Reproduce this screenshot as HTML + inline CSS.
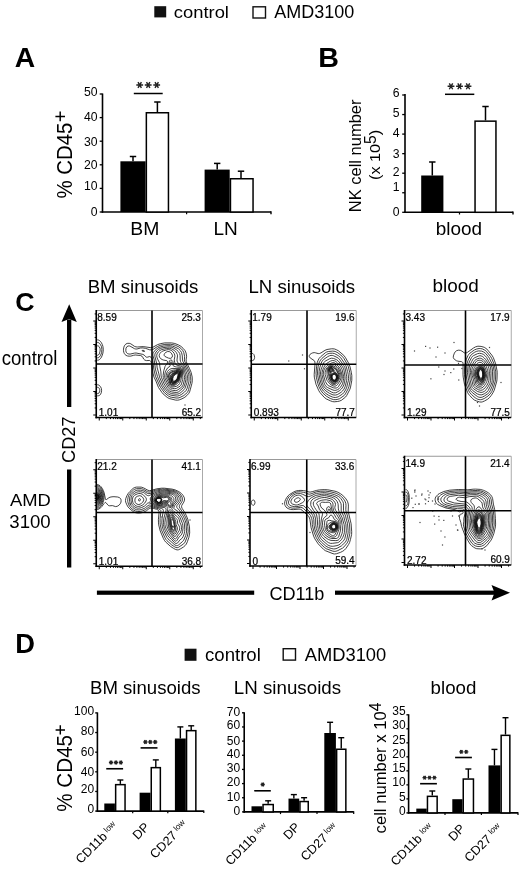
<!DOCTYPE html>
<html><head><meta charset="utf-8"><style>
html,body{margin:0;padding:0;background:#fff;}
svg{display:block;font-family:"Liberation Sans", sans-serif;will-change:transform;}
</style></head><body>
<svg width="520" height="870" viewBox="0 0 520 870">
<rect width="520" height="870" fill="#fff"/>
<rect x="154.3" y="6.2" width="11.9" height="11.2" fill="#111"/>
<text transform="translate(173.82,18.00) scale(1.056,1)" font-size="17.39" fill="#000">control</text>
<rect x="253" y="6.8" width="12.5" height="11.2" fill="#fff" stroke="#111" stroke-width="1.4"/>
<text transform="translate(274.16,18.30) scale(1.022,1)" font-size="17.62" fill="#000">AMD3100</text>
<text transform="translate(14.79,67.00) scale(0.999,1)" font-size="28.34" font-weight="bold" fill="#000">A</text>
<text transform="translate(318.28,67.00) scale(1.012,1)" font-size="28.34" font-weight="bold" fill="#000">B</text>
<text transform="translate(15.15,310.50) scale(1.010,1)" font-size="26.50" font-weight="bold" fill="#000">C</text>
<text transform="translate(15.17,653.00) scale(0.976,1)" font-size="27.98" font-weight="bold" fill="#000">D</text>
<line x1="102.50" y1="93.50" x2="102.50" y2="212.75" stroke="#000" stroke-width="1.6"/>
<line x1="101.70" y1="212.00" x2="271.00" y2="212.00" stroke="#000" stroke-width="1.6"/>
<line x1="271.00" y1="211.20" x2="271.00" y2="214.20" stroke="#000" stroke-width="1.4"/>
<line x1="186.60" y1="212.00" x2="186.60" y2="214.20" stroke="#000" stroke-width="1.2"/>
<line x1="99.70" y1="212.00" x2="102.50" y2="212.00" stroke="#000" stroke-width="1.3"/>
<text x="97.60" y="215.86" font-size="12.2" text-anchor="end">0</text>
<line x1="99.70" y1="188.40" x2="102.50" y2="188.40" stroke="#000" stroke-width="1.3"/>
<text x="97.60" y="189.86" font-size="12.2" text-anchor="end">10</text>
<line x1="99.70" y1="164.80" x2="102.50" y2="164.80" stroke="#000" stroke-width="1.3"/>
<text x="97.60" y="169.26" font-size="12.2" text-anchor="end">20</text>
<line x1="99.70" y1="141.20" x2="102.50" y2="141.20" stroke="#000" stroke-width="1.3"/>
<text x="97.60" y="145.76" font-size="12.2" text-anchor="end">30</text>
<line x1="99.70" y1="117.60" x2="102.50" y2="117.60" stroke="#000" stroke-width="1.3"/>
<text x="97.60" y="121.11" font-size="12.2" text-anchor="end">40</text>
<line x1="99.70" y1="94.00" x2="102.50" y2="94.00" stroke="#000" stroke-width="1.3"/>
<text x="97.60" y="95.96" font-size="12.2" text-anchor="end">50</text>
<rect x="120.40" y="161.30" width="25.20" height="50.70" fill="#000"/>
<line x1="133.00" y1="161.30" x2="133.00" y2="156.50" stroke="#000" stroke-width="1.5"/>
<line x1="129.80" y1="156.50" x2="136.20" y2="156.50" stroke="#000" stroke-width="1.5"/>
<rect x="146.35" y="112.75" width="22.10" height="99.25" fill="#fff" stroke="#000" stroke-width="1.5"/>
<line x1="157.40" y1="112.00" x2="157.40" y2="102.00" stroke="#000" stroke-width="1.5"/>
<line x1="154.20" y1="102.00" x2="160.60" y2="102.00" stroke="#000" stroke-width="1.5"/>
<rect x="204.60" y="169.60" width="25.10" height="42.40" fill="#000"/>
<line x1="217.20" y1="169.60" x2="217.20" y2="163.40" stroke="#000" stroke-width="1.5"/>
<line x1="214.00" y1="163.40" x2="220.40" y2="163.40" stroke="#000" stroke-width="1.5"/>
<rect x="230.45" y="178.75" width="22.60" height="33.25" fill="#fff" stroke="#000" stroke-width="1.5"/>
<line x1="241.00" y1="178.00" x2="241.00" y2="171.20" stroke="#000" stroke-width="1.5"/>
<line x1="237.80" y1="171.20" x2="244.20" y2="171.20" stroke="#000" stroke-width="1.5"/>
<line x1="133.80" y1="93.50" x2="162.70" y2="93.50" stroke="#000" stroke-width="1.5"/>
<path d="M136.30,85.00L143.10,85.00M138.00,82.06L141.40,87.94M141.40,82.06L138.00,87.94" stroke="#222" stroke-width="1.4" fill="none"/>
<path d="M144.80,85.00L151.60,85.00M146.50,82.06L149.90,87.94M149.90,82.06L146.50,87.94" stroke="#222" stroke-width="1.4" fill="none"/>
<path d="M153.30,85.00L160.10,85.00M155.00,82.06L158.40,87.94M158.40,82.06L155.00,87.94" stroke="#222" stroke-width="1.4" fill="none"/>
<text transform="translate(130.31,235.30) scale(1.084,1)" font-size="17.88" fill="#000">BM</text>
<text transform="translate(213.44,235.30) scale(1.064,1)" font-size="17.88" fill="#000">LN</text>
<text transform="translate(72.00,198.53) rotate(-90) scale(0.924,1)" font-size="22.06">% CD45</text>
<path d="M55.40,116.40H65.00M60.20,111.60V121.20" stroke="#000" stroke-width="1.45"/>
<line x1="405.00" y1="94.00" x2="405.00" y2="213.05" stroke="#000" stroke-width="1.6"/>
<line x1="404.20" y1="212.30" x2="513.00" y2="212.30" stroke="#000" stroke-width="1.6"/>
<line x1="513.00" y1="211.50" x2="513.00" y2="214.50" stroke="#000" stroke-width="1.4"/>
<line x1="459.50" y1="212.30" x2="459.50" y2="214.50" stroke="#000" stroke-width="1.2"/>
<line x1="402.20" y1="212.30" x2="405.00" y2="212.30" stroke="#000" stroke-width="1.3"/>
<text x="399.60" y="215.76" font-size="12.2" text-anchor="end">0</text>
<line x1="402.20" y1="192.75" x2="405.00" y2="192.75" stroke="#000" stroke-width="1.3"/>
<text x="399.60" y="190.51" font-size="12.2" text-anchor="end">1</text>
<line x1="402.20" y1="173.20" x2="405.00" y2="173.20" stroke="#000" stroke-width="1.3"/>
<text x="399.60" y="175.56" font-size="12.2" text-anchor="end">2</text>
<line x1="402.20" y1="153.65" x2="405.00" y2="153.65" stroke="#000" stroke-width="1.3"/>
<text x="399.60" y="158.11" font-size="12.2" text-anchor="end">3</text>
<line x1="402.20" y1="134.10" x2="405.00" y2="134.10" stroke="#000" stroke-width="1.3"/>
<text x="399.60" y="136.76" font-size="12.2" text-anchor="end">4</text>
<line x1="402.20" y1="114.55" x2="405.00" y2="114.55" stroke="#000" stroke-width="1.3"/>
<text x="399.60" y="116.71" font-size="12.2" text-anchor="end">5</text>
<line x1="402.20" y1="95.00" x2="405.00" y2="95.00" stroke="#000" stroke-width="1.3"/>
<text x="399.60" y="96.86" font-size="12.2" text-anchor="end">6</text>
<rect x="421.20" y="175.50" width="22.20" height="36.80" fill="#000"/>
<line x1="432.30" y1="175.50" x2="432.30" y2="162.00" stroke="#000" stroke-width="1.5"/>
<line x1="429.10" y1="162.00" x2="435.50" y2="162.00" stroke="#000" stroke-width="1.5"/>
<rect x="475.05" y="121.15" width="20.90" height="91.15" fill="#fff" stroke="#000" stroke-width="1.5"/>
<line x1="485.50" y1="120.40" x2="485.50" y2="106.50" stroke="#000" stroke-width="1.5"/>
<line x1="482.30" y1="106.50" x2="488.70" y2="106.50" stroke="#000" stroke-width="1.5"/>
<line x1="445.00" y1="94.30" x2="474.30" y2="94.30" stroke="#000" stroke-width="1.5"/>
<path d="M447.60,86.30L454.40,86.30M449.30,83.36L452.70,89.24M452.70,83.36L449.30,89.24" stroke="#222" stroke-width="1.4" fill="none"/>
<path d="M456.10,86.30L462.90,86.30M457.80,83.36L461.20,89.24M461.20,83.36L457.80,89.24" stroke="#222" stroke-width="1.4" fill="none"/>
<path d="M464.60,86.30L471.40,86.30M466.30,83.36L469.70,89.24M469.70,83.36L466.30,89.24" stroke="#222" stroke-width="1.4" fill="none"/>
<text transform="translate(435.68,235.00) scale(1.056,1)" font-size="17.94" fill="#000">blood</text>
<text transform="translate(360.80,212.25) rotate(-90) scale(0.980,1)" font-size="16.84">NK cell number</text>
<text transform="translate(380.30,180.01) rotate(-90) scale(1.049,1)" font-size="15.46">(x 10</text>
<text transform="translate(375.6,143.97) rotate(-90)" font-size="15.8">5</text>
<text transform="translate(380.3,135.18) rotate(-90) scale(1.049,1)" font-size="15.46">)</text>
<text transform="translate(87.67,292.90) scale(0.984,1)" font-size="18.91" fill="#000">BM sinusoids</text>
<text transform="translate(248.47,292.50) scale(1.039,1)" font-size="17.94" fill="#000">LN sinusoids</text>
<text transform="translate(432.58,292.30) scale(1.024,1)" font-size="18.49" fill="#000">blood</text>
<text transform="translate(1.71,364.50) scale(0.962,1)" font-size="19.32" fill="#000">control</text>
<text transform="translate(9.96,505.50) scale(1.078,1)" font-size="17.08" fill="#000">AMD</text>
<text transform="translate(9.29,528.00) scale(1.040,1)" font-size="17.90" fill="#000">3100</text>
<path d="M69.2,304.2 L76.8,322 L69.2,319 L61.5,322 Z" fill="#000"/>
<rect x="67.0" y="319.5" width="4.3" height="87.5" fill="#000"/>
<text transform="translate(74.50,462.92) rotate(-90) scale(0.955,1)" font-size="18.98">CD27</text>
<rect x="67.0" y="469.5" width="4.3" height="98" fill="#000"/>
<rect x="96.9" y="590.6" width="157.3" height="4.2" fill="#000"/>
<text transform="translate(269.38,599.70) scale(1.033,1)" font-size="17.53" fill="#000">CD11b</text>
<rect x="335" y="590.6" width="160" height="4.2" fill="#000"/>
<path d="M510,592.7 L491.5,585 L494.5,592.7 L491.5,600.5 Z" fill="#000"/>
<path d="M173.2 384.4l-0.8 0.1l-0.8 -0.1l-0.6 -0.5l-0.4 -0.8l-1.5 -6.0l-0.0 -1.2l0.3 -1.2l0.8 -1.2l1.4 -1.0l3.6 -1.1l2.8 -1.3l0.8 -0.2l0.8 0.1l0.4 0.3l0.4 0.7l0.1 1.7l-1.9 6.8l-0.9 1.6l-1.1 1.2l-1.8 1.3l-1.6 0.8M173.7 384.7l-1.2 0.3l-0.8 -0.1l-0.8 -0.6l-0.5 -0.8l-0.8 -3.2l-1.0 -3.2l-0.1 -1.2l0.4 -1.6l1.2 -1.6l1.6 -1.0l4.0 -1.0l2.8 -1.2l1.2 -0.0l0.4 0.2l0.5 0.6l0.2 0.8l0.1 1.2l-0.3 1.6l-1.5 5.6l-0.8 1.6l-1.0 1.2l-1.6 1.3l-2.0 1.1M173.7 385.6l-1.2 0.3l-1.2 -0.3l-0.8 -0.7l-0.5 -1.0l-1.1 -3.3l-1.4 -3.5l0.0 -1.6l0.6 -2.0l1.2 -1.6l1.2 -0.9l1.2 -0.5l1.6 -0.4l2.4 -0.2l3.2 -1.0l1.2 0.1l0.4 0.2l0.5 0.7l0.3 2.0l-0.3 2.4l-1.5 6.0l-1.0 1.9l-1.2 1.4l-1.2 0.9l-2.4 1.1M171.2 363.5l-0.4 -0.1l-0.4 -0.3l-0.1 -0.4l0.1 -0.4l0.4 -0.5l0.6 0.1l0.4 0.4l-0.1 0.8l-0.5 0.4M174.1 386.8l-1.6 0.2l-1.2 -0.2l-0.8 -0.5l-0.9 -1.2l-3.4 -7.6l-0.1 -1.6l0.6 -2.8l0.8 -1.6l1.0 -1.2l1.2 -0.9l1.2 -0.6l2.0 -0.4l3.2 0.2l3.2 -0.5l1.2 0.2l0.6 0.4l0.5 0.8l0.3 2.0l-0.6 6.8l-0.6 2.4l-1.1 2.8l-1.2 1.6l-1.9 1.2l-2.4 0.5M170.9 358.3l-0.8 0.1l-1.6 -0.3l-2.3 -1.0l-1.4 -0.8l-0.4 -0.4l-0.3 -0.8l0.1 -0.8l0.4 -0.8l1.3 -1.2l1.8 -0.8l1.6 0.1l1.2 0.7l1.3 1.6l0.5 1.2l0.2 0.8l-0.4 1.4l-1.2 1.0M176.4 388.4l-1.6 0.3l-2.4 -0.3l-1.6 -0.4l-0.9 -0.5l-0.9 -1.2l-2.2 -4.0l-2.1 -4.8l-0.0 -2.4l0.5 -2.4l0.5 -1.6l1.9 -3.2l2.3 -1.6l0.3 -0.4l-0.0 -0.4l-1.0 -1.7l-0.2 -1.5l0.6 -1.5l0.8 -0.8l0.4 -0.1l1.2 0.5l0.9 1.1l0.3 1.6l-0.3 2.0l0.1 0.4l0.5 0.4l1.6 0.8l1.3 0.3l3.2 0.1l1.2 0.2l1.0 1.0l0.5 1.2l0.2 4.4l0.4 4.0l-0.2 1.6l-1.2 4.4l-0.5 1.2l-1.0 1.1l-3.6 2.2M176.9 390.4l-1.6 0.2l-2.8 -0.3l-2.0 -0.6l-1.4 -1.0l-0.7 -0.8l-3.1 -5.2l-2.0 -5.2l-0.2 -2.0l0.7 -4.8l1.3 -4.4l0.5 -0.8l1.3 -1.3l0.4 -0.7l0.2 -2.0l-0.2 -0.5l-0.4 -0.3l-3.6 -0.7l-1.2 -0.5l-1.2 -0.7l-0.8 -0.8l-0.5 -0.9l-0.4 -1.2l0.0 -0.8l0.3 -0.8l0.6 -1.1l1.6 -1.6l1.2 -0.6l3.6 -1.1l2.0 -0.3l1.6 0.3l1.7 0.8l1.3 1.2l1.1 1.6l0.6 1.6l0.0 1.6l-0.6 3.2l0.6 2.8l0.5 1.2l0.8 0.8l1.2 0.7l3.2 0.6l1.2 0.6l0.9 0.9l0.4 1.2l0.5 4.0l0.9 3.2l0.2 1.6l-0.2 2.0l-1.1 4.8l-0.7 1.6l-0.9 1.2l-3.6 2.6l-1.2 0.7M176.9 392.4l-2.0 -0.0l-3.2 -0.5l-2.0 -0.8l-1.6 -1.2l-1.3 -1.6l-2.7 -4.4l-2.6 -6.4l-0.4 -1.6l-0.2 -4.0l-1.1 -5.6l-0.2 -2.8l-0.3 -1.2l-1.7 -3.2l-0.7 -2.0l-0.2 -1.6l0.3 -1.6l1.3 -2.0l1.4 -1.3l2.0 -1.0l4.8 -1.1l2.8 -0.2l2.4 0.6l2.5 1.4l2.2 2.4l1.0 2.0l0.1 1.2l-0.5 4.0l0.1 1.2l0.5 1.2l0.6 0.8l0.9 0.8l2.6 1.3l0.8 0.6l1.1 1.7l0.9 4.0l1.0 2.8l0.4 2.0l-0.0 3.2l-0.7 3.6l-1.1 3.2l-1.0 1.6l-4.2 3.7l-0.8 0.5l-1.2 0.3M178.1 394.0l-2.0 0.2l-4.4 -0.5l-2.0 -0.9l-2.4 -1.7l-1.8 -2.0l-2.4 -3.6l-3.6 -8.4l-0.8 -4.0l-1.5 -5.2l-0.5 -4.4l-1.8 -7.2l-0.1 -1.6l0.5 -1.6l1.8 -2.4l1.4 -1.3l2.0 -1.0l2.4 -0.7l4.4 -0.6l2.4 -0.1l2.0 0.3l2.0 0.8l2.9 1.8l1.9 1.8l1.2 1.8l0.4 2.0l0.1 4.4l0.3 1.6l0.7 1.2l2.3 2.4l0.9 1.6l1.3 4.0l1.4 3.6l0.3 1.6l0.0 2.4l-0.4 4.4l-2.0 5.6l-0.9 1.3l-3.2 2.9l-1.2 0.8l-1.6 0.7M97.2 345.8l1.2 0.2l0.8 0.7l0.8 1.6l0.2 1.6l-0.3 2.0l-0.6 2.0l-0.9 1.1l-1.2 0.4M177.7 396.0l-1.6 0.0l-5.2 -0.8l-2.0 -0.9l-3.0 -2.4l-1.4 -1.6l-3.0 -4.4l-4.0 -9.2l-2.1 -7.6l-1.1 -8.8l-1.4 -4.8l-0.1 -1.6l0.7 -1.6l2.8 -3.2l1.8 -1.2l2.0 -0.9l3.2 -0.8l2.8 -0.4l4.0 -0.1l2.4 0.4l2.4 0.9l3.6 1.8l1.9 1.9l1.2 2.0l0.7 3.2l0.2 4.0l0.4 1.6l2.2 4.0l3.1 7.2l0.5 1.6l0.3 2.4l-0.0 4.4l-0.4 2.0l-1.6 5.6l-1.1 2.0l-1.4 1.4l-2.8 2.2l-2.0 1.1l-2.0 0.6M144.4 351.5l-0.8 -0.0l-1.2 -0.4l-0.4 -0.4l0.8 -0.4l1.2 0.2l0.7 0.6l-0.3 0.4M97.2 342.4l0.8 0.1l0.8 0.3l0.8 0.7l0.8 1.0l1.1 2.2l0.4 2.8l-0.3 3.2l-1.1 2.8l-1.3 1.7l-0.8 0.5l-1.2 0.2M178.1 398.0l-2.0 0.0l-4.8 -0.8l-1.2 -0.3l-1.6 -0.8l-4.1 -3.4l-4.1 -5.6l-4.8 -10.8l-1.7 -7.2l-1.0 -8.4l-0.7 -1.9l-1.2 -1.7l-1.2 -0.6l-2.4 0.7l-0.8 0.0l-0.8 -0.5l-1.5 -1.6l-1.3 -0.7l-6.8 -1.4l-1.6 0.1l-4.4 1.0l-1.2 -0.1l-1.2 -0.3l-1.2 -1.0l-0.4 -0.8l-0.3 -1.2l0.2 -2.4l0.9 -1.6l1.2 -0.7l1.2 -0.1l1.6 0.7l3.6 2.1l1.2 0.3l1.2 -0.0l3.6 -1.0l2.4 -0.1l2.8 0.5l4.0 1.4l1.6 0.1l1.6 -0.4l4.4 -2.9l2.8 -1.2l4.8 -1.0l5.6 -0.1l2.4 0.3l2.4 0.7l3.6 1.6l2.3 1.8l1.7 2.0l0.9 2.0l0.8 3.6l-0.2 3.6l0.2 1.2l5.3 12.0l0.7 3.6l0.2 4.0l-0.4 2.4l-1.1 3.5l-0.7 2.9l-0.5 1.6l-0.8 1.2l-1.6 1.8l-2.0 1.5l-3.6 1.8l-2.0 0.6M97.2 387.2l1.2 0.3l0.8 0.8l0.5 1.2l0.1 1.2l-0.2 1.2l-0.7 1.2l-0.9 0.5l-0.8 0.0M97.2 339.8l1.2 0.2l1.2 0.6l0.9 0.9l0.9 1.2l0.8 1.6l0.7 2.0l0.4 3.2l-0.2 2.4l-0.4 2.0l-1.2 3.2l-0.8 1.2l-1.1 1.2l-1.2 0.6l-1.2 0.1M179.2 399.9l-1.6 0.3l-2.0 -0.1l-6.4 -1.6l-2.0 -1.1l-4.1 -3.5l-1.0 -1.2l-3.6 -5.2l-2.5 -6.3l-2.0 -4.1l-1.0 -4.0l-1.4 -9.6l-0.8 -2.2l-0.4 -0.4l-0.8 -0.4l-3.2 0.1l-1.6 -0.5l-1.1 -1.0l-1.0 -2.0l-0.6 -0.8l-1.7 -0.8l-5.2 -0.5l-1.6 0.3l-2.8 0.8l-1.6 0.1l-1.6 -0.2l-1.6 -0.6l-0.8 -0.7l-0.9 -1.2l-0.5 -1.2l-0.3 -1.6l0.0 -1.6l0.4 -2.0l0.5 -1.3l0.8 -1.1l0.8 -0.7l1.2 -0.6l2.0 -0.1l1.6 0.5l3.6 2.5l1.6 0.6l1.6 0.1l5.6 -0.4l7.6 1.1l2.0 -0.4l4.8 -2.7l3.2 -1.0l4.0 -0.7l6.8 0.0l3.2 0.6l3.6 1.4l2.5 1.4l2.2 2.0l2.0 2.4l1.0 2.4l0.5 3.2l-0.5 3.6l0.2 1.6l0.5 1.6l2.6 5.2l1.7 4.0l1.1 4.8l0.1 3.6l-0.4 2.8l-1.7 6.4l-0.6 2.0l-0.9 1.6l-1.9 2.1l-2.0 1.7l-2.8 1.5l-2.8 1.1M97.2 384.7l0.8 0.1l0.8 0.3l1.6 1.4l0.9 1.8l0.3 2.0l-0.3 2.4l-1.0 2.0l-0.7 0.6l-0.8 0.4l-1.6 0.2M173.7 383.5l-0.8 0.2l-0.8 -0.1l-0.4 -0.2l-0.5 -0.7l-1.0 -5.6l0.0 -0.8l0.3 -1.1l0.7 -0.9l0.9 -0.7l2.8 -1.2l2.8 -1.6l0.8 -0.2l0.8 -0.0l0.4 0.2l0.3 0.7l0.1 1.2l-1.0 4.0l-0.8 2.4l-0.9 1.6l-0.9 1.0l-1.6 1.2l-1.2 0.6M173.7 383.2l-0.8 0.2l-0.8 -0.2l-0.7 -0.9l-0.7 -5.2l0.3 -1.6l1.1 -1.3l5.2 -2.8l1.2 -0.5l0.8 0.1l0.5 0.9l0.0 1.2l-1.0 4.0l-0.7 2.0l-0.7 1.2l-0.9 1.1l-1.2 0.9l-1.6 0.9M174.1 382.7l-0.8 0.3l-0.8 -0.1l-0.4 -0.2l-0.5 -0.8l-0.3 -4.4l0.2 -1.6l0.5 -0.8l1.0 -0.8l4.3 -2.6l0.8 -0.3l0.8 -0.0l0.5 0.5l0.1 1.2l-1.5 5.6l-0.6 1.2l-0.9 1.1l-1.2 1.0l-1.2 0.7M174.1 382.4l-0.8 0.2l-0.8 -0.1l-0.6 -1.0l-0.2 -2.8l0.3 -2.4l0.8 -1.2l2.5 -1.7l2.4 -1.4l1.1 -0.1l0.3 0.4l0.1 1.2l-0.7 3.2l-0.7 2.0l-1.3 2.0l-1.2 1.0l-1.2 0.7M174.1 382.0l-1.2 0.1l-0.4 -0.3l-0.4 -0.7l-0.0 -2.8l0.4 -2.0l1.0 -1.2l2.2 -1.7l2.0 -1.0l0.8 0.0l0.3 0.7l-0.1 1.2l-0.5 2.4l-0.7 2.0l-0.6 1.1l-0.8 0.9l-2.0 1.3M174.1 381.6l-0.8 0.1l-0.4 -0.2l-0.5 -0.8l-0.0 -2.0l0.5 -2.0l0.7 -1.2l1.7 -1.4l1.6 -1.0l0.8 -0.2l0.4 0.1l0.3 0.9l-0.1 1.2l-0.4 2.0l-0.6 1.5l-1.2 1.7l-0.8 0.7l-1.2 0.6M174.1 381.2l-0.8 -0.1l-0.5 -0.8l0.0 -2.0l0.5 -1.6l0.9 -1.2l1.5 -1.2l1.2 -0.6l0.8 0.0l0.3 0.6l-0.1 1.6l-0.9 2.8l-1.3 1.6l-1.6 0.9" stroke="#111" stroke-width="0.8" fill="none" stroke-linejoin="round"/>
<rect x="184.4" y="404.4" width="1.2" height="1.2" fill="#444"/>
<path d="M335.1 382.8l-0.8 0.3l-0.8 -0.0l-1.2 -0.7l-1.2 -1.7l-1.1 -2.4l-0.3 -1.6l-0.3 -2.8l-0.9 -2.4l-0.2 -1.6l0.3 -1.2l0.5 -0.8l0.8 -0.6l0.8 -0.4l1.2 -0.0l0.8 0.2l2.8 2.3l1.2 1.6l1.6 3.3l0.2 2.4l-0.6 2.8l-1.2 1.9l-1.6 1.4M334.6 383.6l-0.8 0.1l-0.8 -0.1l-0.8 -0.5l-0.8 -0.8l-1.6 -2.8l-0.9 -2.8l-0.4 -2.8l-0.7 -2.8l0.0 -1.6l0.5 -1.2l0.6 -0.8l0.9 -0.6l1.2 -0.4l1.2 -0.0l0.8 0.2l3.2 2.3l1.2 1.9l1.5 3.4l-0.0 2.4l-0.8 3.2l-1.5 2.1l-1.2 1.2l-0.8 0.4M334.2 384.7l-0.8 -0.1l-1.2 -0.4l-1.0 -0.7l-1.0 -1.2l-1.9 -3.2l-0.8 -2.4l-0.4 -2.0l-0.2 -4.0l0.2 -1.2l0.5 -1.2l1.0 -1.2l0.8 -0.6l1.2 -0.6l1.2 -0.2l1.2 0.0l0.8 0.3l2.0 1.3l1.2 1.1l0.7 1.1l1.5 3.2l0.7 2.0l0.0 1.2l-0.2 1.6l-0.6 2.0l-0.5 1.2l-2.4 3.0l-0.8 0.6l-1.2 0.4M335.9 385.9l-1.2 0.3l-1.6 -0.3l-2.0 -1.0l-1.6 -1.4l-2.5 -3.2l-1.9 -5.9l0.0 -1.7l0.4 -2.0l0.7 -1.6l0.7 -1.2l1.1 -1.2l1.5 -1.1l1.6 -0.7l1.6 -0.5l1.2 0.1l0.8 0.3l2.4 2.0l1.1 1.1l2.2 4.8l0.7 2.4l-0.1 2.8l-0.9 2.8l-2.7 4.0l-0.7 0.7l-0.8 0.5M336.6 387.9l-1.6 0.2l-1.6 -0.3l-4.5 -1.9l-1.5 -1.0l-2.1 -3.4l-1.9 -6.8l-0.1 -1.6l0.5 -2.4l0.6 -1.6l1.0 -1.6l1.2 -1.3l1.2 -0.9l3.6 -2.2l1.2 -0.5l1.2 0.0l1.2 0.5l4.0 3.8l1.0 1.8l1.2 3.2l0.9 3.2l0.2 1.6l-0.1 1.6l-0.4 2.0l-0.7 2.0l-2.7 4.4l-0.9 0.8l-0.9 0.4M335.9 390.3l-1.2 0.1l-1.6 -0.3l-5.6 -2.6l-1.7 -1.2l-1.0 -1.6l-1.1 -2.8l-1.7 -7.2l0.1 -2.4l0.7 -2.8l0.9 -2.0l1.8 -2.9l1.2 -1.2l3.6 -2.2l2.0 -0.7l2.0 0.2l1.6 0.8l1.6 1.4l2.7 3.0l1.0 1.6l0.9 2.0l1.5 6.8l0.1 2.0l-0.3 2.0l-0.7 2.9l-0.8 1.9l-1.7 2.4l-1.1 1.2l-1.6 1.0l-1.6 0.6M335.4 392.8l-2.0 -0.0l-2.0 -0.8l-4.8 -2.8l-2.0 -1.7l-1.3 -2.0l-1.0 -2.8l-0.8 -3.2l-1.0 -5.2l0.1 -2.4l0.6 -2.8l2.8 -6.8l0.7 -0.8l1.1 -0.7l4.0 -2.1l1.6 -0.5l2.0 0.2l3.2 1.3l1.6 1.2l2.0 2.5l2.3 3.3l1.1 2.0l0.4 1.6l1.0 6.4l0.1 2.0l-0.4 2.4l-0.8 3.6l-1.1 2.4l-1.5 2.0l-1.5 1.4l-2.8 1.7l-1.6 0.6M335.4 395.1l-2.4 -0.2l-3.6 -1.6l-3.6 -2.4l-2.4 -2.5l-1.3 -2.1l-1.2 -3.2l-1.0 -4.0l-0.8 -4.8l-0.0 -2.8l0.7 -4.0l1.4 -4.4l1.0 -2.0l1.6 -1.8l4.0 -2.7l1.6 -0.8l1.6 -0.4l1.2 0.0l1.2 0.3l3.6 1.7l1.6 1.0l1.3 1.5l3.8 5.6l1.1 2.0l0.7 2.4l1.2 6.8l0.1 2.0l-0.1 1.6l-1.6 6.4l-1.1 2.4l-1.4 1.8l-1.5 1.4l-3.7 2.3l-2.0 0.5M335.4 397.5l-1.6 -0.1l-1.2 -0.3l-4.0 -1.8l-2.8 -1.9l-2.4 -2.4l-2.2 -3.1l-1.3 -2.8l-1.1 -4.0l-1.1 -5.6l-0.2 -3.6l0.6 -5.2l0.7 -3.2l0.9 -2.0l1.0 -1.6l1.1 -1.4l4.4 -3.7l1.6 -1.0l2.0 -0.5l2.8 -0.1l2.0 0.4l3.6 2.0l2.4 2.0l3.8 5.5l1.6 2.8l1.6 5.6l0.6 2.8l0.4 4.0l-0.1 2.0l-1.0 3.6l-0.7 3.2l-1.2 2.8l-1.8 2.8l-1.2 1.3l-4.4 2.8l-1.2 0.4l-1.6 0.3M337.1 399.5l-2.0 0.2l-1.6 -0.1l-3.2 -1.1l-4.0 -2.3l-3.4 -3.1l-2.1 -2.8l-1.9 -3.6l-1.1 -3.2l-1.5 -6.4l-0.3 -4.0l0.6 -6.8l0.6 -3.6l0.9 -2.4l1.1 -2.0l1.5 -1.6l4.8 -4.1l1.2 -0.6l1.6 -0.5l4.4 -0.4l2.4 0.3l2.8 1.4l4.3 3.5l1.6 2.0l3.7 6.4l0.7 1.6l1.6 6.4l0.4 3.6l0.1 3.6l-1.4 6.8l-0.7 2.0l-2.8 5.2l-1.1 1.5l-4.7 3.3l-2.5 0.8M337.4 401.5l-3.2 0.3l-1.6 -0.2l-2.0 -0.7l-4.4 -2.0l-2.0 -1.6l-4.1 -4.6l-1.3 -2.0l-2.8 -6.4l-1.7 -7.2l-0.1 -2.8l0.8 -10.0l-0.1 -2.4l-0.7 -1.3l-4.0 -2.7l-0.7 -0.8l-0.3 -0.8l0.1 -0.8l0.4 -0.8l1.6 -1.2l1.3 -0.6l1.6 -0.3l1.2 0.2l2.8 0.8l1.2 -0.1l1.6 -0.6l4.0 -2.6l2.0 -0.8l4.4 -0.7l1.6 0.0l1.6 0.2l2.0 0.8l2.0 1.1l5.2 4.5l1.6 2.1l3.4 6.0l1.2 3.2l1.3 5.6l0.5 3.2l0.0 4.8l-1.4 7.6l-0.8 2.0l-2.9 5.6l-1.2 1.6l-4.1 3.2l-2.0 0.8l-2.0 0.4M252.2 353.4l0.8 0.2l0.8 0.8l0.6 1.5l0.2 1.6l-0.2 1.2l-0.6 1.2l-0.8 0.6l-0.8 0.1M334.6 382.0l-1.2 0.0l-0.8 -0.5l-0.9 -1.2l-0.9 -2.0l-0.3 -1.6l0.1 -3.2l-1.4 -2.0l-0.4 -1.6l0.1 -0.8l0.4 -0.8l1.3 -0.8l1.2 0.0l1.1 0.8l0.8 1.2l0.6 1.6l2.3 2.2l0.9 1.8l0.1 2.4l-0.5 2.0l-1.1 1.6l-1.4 0.9M334.6 381.7l-1.2 -0.0l-0.8 -0.6l-0.9 -1.2l-0.6 -1.6l-0.3 -2.0l0.5 -2.8l-0.1 -0.4l-1.6 -1.6l-0.4 -0.8l-0.2 -0.8l0.4 -1.3l0.4 -0.4l0.8 -0.4l1.2 0.0l0.7 0.5l0.7 1.2l0.3 2.4l2.3 1.2l0.8 0.9l0.6 1.1l0.2 2.0l-0.4 2.0l-1.0 1.6l-1.4 1.0M332.2 371.9l-0.4 0.2l-0.8 0.0l-0.8 -0.4l-0.5 -0.6l-0.4 -0.8l0.0 -0.8l0.3 -0.8l0.6 -0.6l1.2 -0.2l0.6 0.4l0.7 0.8l0.2 0.8l-0.1 0.8l-0.6 1.2M335.1 381.2l-1.2 0.2l-0.8 -0.4l-1.0 -1.1l-0.8 -2.0l-0.1 -1.6l0.3 -1.4l0.8 -1.5l0.8 -0.4l1.2 -0.1l1.2 0.4l1.1 1.0l0.5 1.2l0.2 2.0l-0.4 1.6l-0.7 1.2l-1.1 0.9M331.4 371.6l-0.8 -0.1l-0.4 -0.3l-0.5 -0.9l0.0 -1.2l0.9 -0.8l0.7 0.0l0.5 0.3l0.6 0.9l-0.1 1.2l-0.5 0.7l-0.4 0.2M335.1 380.9l-1.2 0.2l-0.8 -0.4l-0.9 -1.2l-0.6 -1.6l-0.2 -1.6l0.3 -1.2l0.9 -1.2l0.9 -0.4l0.8 -0.1l1.2 0.4l1.0 0.9l0.5 1.2l0.1 1.6l-0.3 1.2l-0.6 1.2l-1.1 1.0M331.4 371.0l-0.8 -0.0l-0.6 -0.7l-0.0 -0.8l0.2 -0.4l0.4 -0.4l0.8 0.1l0.6 0.7l-0.1 0.8l-0.5 0.7M334.2 380.7l-0.8 -0.2l-1.0 -1.0l-0.6 -1.2l-0.2 -1.6l0.2 -1.2l0.4 -0.8l0.8 -0.7l1.2 -0.3l0.8 0.2l1.0 0.8l0.6 1.1l0.2 1.3l-0.2 1.2l-0.5 1.2l-0.7 0.8l-1.2 0.4M331.1 370.3l-0.5 -0.4l0.1 -0.4l0.4 -0.2l0.3 0.2l0.1 0.4l-0.4 0.4M334.6 380.4l-0.8 -0.0l-0.8 -0.5l-0.8 -1.2l-0.3 -1.2l-0.0 -1.2l0.3 -0.9l0.8 -0.9l0.8 -0.3l0.8 0.0l1.0 0.5l0.6 0.8l0.3 1.2l-0.0 1.2l-0.4 1.2l-0.7 0.9l-0.8 0.4M334.6 380.0l-0.8 -0.0l-0.8 -0.6l-0.5 -0.7l-0.4 -1.2l0.0 -1.2l0.3 -0.8l0.6 -0.7l0.8 -0.3l0.8 0.0l0.8 0.4l0.5 0.6l0.4 1.2l-0.0 1.2l-0.3 0.8l-0.6 0.8l-0.8 0.5" stroke="#111" stroke-width="0.8" fill="none" stroke-linejoin="round"/>
<rect x="288.15" y="360.4" width="1.2" height="1.2" fill="#444"/>
<rect x="301.9" y="354.4" width="1.2" height="1.2" fill="#444"/>
<rect x="303.9" y="368.15" width="1.2" height="1.2" fill="#444"/>
<path d="M480.7 383.1l-1.2 -0.2l-1.0 -1.0l-1.0 -3.2l-1.7 -3.6l-0.3 -2.0l0.4 -2.0l1.6 -2.8l1.6 -1.5l0.8 -0.3l0.8 -0.1l0.8 0.2l0.7 0.5l1.1 1.6l0.9 2.8l0.4 2.8l-0.4 3.2l-0.7 2.0l-1.6 2.8l-1.2 0.8M481.1 383.6l-0.8 0.2l-0.8 -0.1l-0.8 -0.5l-0.6 -0.5l-0.3 -0.8l-0.8 -2.8l-1.8 -4.0l-0.3 -2.0l0.4 -2.0l1.8 -3.3l1.6 -1.4l1.2 -0.6l0.8 -0.1l1.2 0.5l0.8 0.7l0.6 1.0l1.2 3.2l0.5 2.8l-0.3 2.8l-0.6 2.4l-1.6 3.2l-0.6 0.7l-0.8 0.6M481.1 384.7l-1.2 0.2l-1.2 -0.3l-0.8 -0.4l-0.8 -0.9l-0.4 -1.0l-0.5 -2.8l-1.8 -4.4l-0.4 -2.4l0.2 -1.2l0.4 -1.2l1.0 -2.0l1.1 -1.6l0.8 -0.8l1.2 -0.8l1.2 -0.4l0.8 -0.1l0.8 0.2l0.8 0.5l1.4 1.8l1.6 4.4l0.4 2.4l-0.4 3.6l-0.8 2.4l-1.8 3.5l-0.8 0.8l-0.8 0.5M480.7 386.3l-1.2 -0.0l-1.6 -0.5l-1.2 -0.7l-0.7 -0.8l-0.4 -1.2l-0.6 -3.2l-1.7 -4.8l-0.4 -2.4l0.1 -1.6l0.5 -1.6l0.9 -2.0l1.5 -2.3l1.2 -1.6l0.8 -0.6l0.8 -0.4l1.2 -0.3l1.2 0.2l0.8 0.4l0.8 0.7l1.3 1.9l0.9 1.6l1.3 3.6l0.5 1.6l0.1 1.2l-0.6 4.8l-1.3 3.2l-1.3 2.4l-0.9 1.2l-0.8 0.7l-1.2 0.5M481.9 387.9l-1.6 0.3l-1.6 -0.4l-2.8 -1.4l-1.2 -1.3l-0.5 -1.2l-0.4 -2.8l-1.6 -5.6l-0.6 -2.8l0.1 -2.0l0.6 -2.5l0.7 -1.5l2.1 -3.6l0.8 -1.2l0.8 -0.8l1.2 -0.6l1.2 -0.3l1.2 0.1l1.6 0.5l1.2 0.8l0.8 1.0l2.5 4.1l1.2 3.6l0.4 2.0l-0.0 2.0l-0.5 4.4l-0.7 2.8l-1.0 2.0l-1.3 2.0l-1.4 1.6l-1.2 0.8M482.3 390.0l-1.6 0.3l-2.4 -0.6l-3.2 -1.9l-1.6 -1.5l-0.7 -1.6l-0.5 -2.8l-0.9 -3.2l-1.0 -6.0l-0.0 -2.4l0.6 -3.2l3.0 -5.6l0.9 -1.2l1.0 -0.8l2.0 -0.9l1.6 -0.4l1.2 0.1l1.2 0.5l1.6 1.1l1.3 1.2l3.4 5.2l0.7 2.0l0.5 3.2l0.0 2.4l-0.5 6.4l-0.6 2.4l-1.2 2.4l-1.4 2.0l-1.8 1.9l-1.6 1.0M482.3 392.3l-1.2 0.1l-1.2 -0.2l-2.4 -0.7l-4.0 -2.8l-1.2 -1.2l-0.9 -2.0l-1.4 -6.0l-1.1 -7.2l0.3 -4.4l0.5 -2.0l2.0 -4.4l1.4 -2.4l0.8 -0.9l0.8 -0.5l4.0 -1.7l1.2 -0.3l1.2 0.2l1.6 0.7l1.6 1.4l1.3 1.5l4.3 6.4l0.7 2.0l0.3 2.8l0.1 2.8l-0.4 6.8l-0.3 1.6l-0.5 1.6l-1.4 2.8l-2.1 3.2l-2.0 1.9l-2.0 0.9M481.9 394.8l-2.0 -0.0l-2.8 -1.0l-4.4 -3.3l-1.6 -1.8l-1.0 -2.4l-1.5 -6.0l-1.2 -7.6l0.7 -7.2l1.6 -4.4l1.9 -3.6l0.9 -1.2l1.0 -0.7l4.0 -1.9l2.0 -0.4l2.0 0.3l2.0 0.8l1.4 1.1l1.7 2.0l2.2 4.0l2.5 4.0l0.8 2.4l0.5 3.2l-0.4 9.6l-0.4 2.0l-1.3 3.2l-2.2 4.4l-1.2 1.6l-2.8 1.9l-2.4 1.0M482.3 397.1l-1.2 0.3l-1.2 -0.0l-1.2 -0.3l-1.2 -0.5l-5.2 -4.0l-1.8 -1.9l-1.5 -3.2l-1.4 -4.4l-0.7 -3.2l-1.0 -6.4l0.3 -6.8l0.3 -1.6l1.6 -4.8l2.0 -4.0l1.4 -1.8l3.2 -2.3l2.0 -0.9l2.0 -0.4l2.8 0.2l2.4 1.0l1.8 1.4l2.7 3.2l1.0 1.6l1.3 2.8l1.9 3.6l0.8 2.4l0.8 4.4l-0.2 7.6l-0.3 2.0l-1.6 5.2l-1.7 4.0l-1.1 2.0l-1.4 1.4l-3.6 2.4l-2.0 1.0M481.9 399.5l-1.2 0.2l-1.6 -0.1l-1.2 -0.3l-1.6 -0.8l-1.2 -0.8l-3.6 -3.2l-1.7 -1.8l-1.3 -2.4l-2.4 -6.4l-0.4 -2.0l-1.3 -7.6l0.2 -7.2l0.2 -2.0l1.6 -6.0l1.6 -3.6l0.8 -1.2l1.2 -1.2l4.3 -3.1l2.4 -1.0l2.4 -0.5l1.6 0.1l1.6 0.3l2.8 1.4l1.7 1.6l3.9 4.8l0.9 1.6l2.6 6.0l1.6 7.6l-0.3 7.2l-0.2 2.0l-2.1 6.8l-1.4 3.6l-1.6 2.4l-2.3 2.2l-3.6 2.4l-2.4 1.0M482.3 401.9l-1.2 0.2l-1.6 -0.2l-3.2 -1.0l-2.0 -0.9l-1.6 -1.3l-3.0 -3.2l-1.3 -1.6l-0.7 -1.2l-3.2 -8.4l-1.3 -7.2l-0.2 -2.8l0.1 -10.4l-0.2 -1.2l-0.6 -0.7l-0.8 -0.4l-3.6 -0.4l-1.6 -0.5l-2.1 -1.6l-0.6 -0.8l-0.3 -0.8l0.1 -1.6l1.0 -2.8l1.1 -1.6l1.1 -0.8l1.7 -0.5l2.0 0.1l1.6 0.8l2.4 1.7l0.8 0.3l0.8 -0.0l1.6 -0.8l6.0 -4.3l2.0 -1.1l2.4 -0.7l3.2 0.2l3.2 0.9l2.6 1.8l4.9 6.0l1.5 2.4l2.4 6.4l1.4 7.2l0.1 1.6l-0.2 6.4l-0.2 2.0l-2.6 9.2l-1.2 2.4l-1.8 2.8l-1.7 2.1l-2.0 1.7l-2.8 1.6l-2.4 1.0M480.7 381.9l-0.8 -0.2l-0.8 -1.1l-2.3 -5.5l-0.3 -2.0l0.4 -2.0l1.3 -2.4l1.3 -1.2l1.2 -0.2l1.2 0.5l0.9 1.3l0.8 2.4l0.4 2.8l-0.2 2.4l-0.5 2.0l-1.4 2.4l-0.4 0.4l-0.8 0.4M481.1 381.2l-0.4 0.1l-0.6 -0.2l-0.9 -1.2l-1.8 -4.4l-0.5 -2.0l0.3 -2.0l0.9 -2.0l1.0 -1.3l1.2 -0.6l1.2 0.3l1.0 1.2l0.8 2.0l0.5 2.8l-0.1 2.4l-0.5 2.0l-0.9 1.7l-1.2 1.2M481.5 380.4l-0.8 0.3l-0.4 -0.1l-0.8 -0.9l-1.4 -3.0l-0.7 -2.8l0.1 -2.0l0.7 -2.0l0.9 -1.2l1.2 -0.7l1.2 0.3l0.8 0.9l0.7 1.5l0.5 2.4l0.0 2.4l-0.3 2.0l-0.7 1.6l-1.0 1.3M481.1 380.0l-0.8 -0.1l-1.2 -1.7l-0.9 -2.3l-0.5 -2.4l0.3 -2.0l0.6 -1.6l0.9 -1.2l1.2 -0.4l0.8 0.4l0.9 1.2l0.6 2.0l0.3 2.4l-0.1 2.0l-0.4 1.6l-0.9 1.5l-0.8 0.6M481.5 379.3l-0.8 0.2l-0.4 -0.2l-0.8 -1.0l-0.9 -2.0l-0.5 -2.0l0.0 -1.6l0.5 -2.0l0.7 -1.2l1.0 -0.7l0.8 0.1l0.8 0.7l0.7 1.5l0.4 2.0l0.1 2.0l-0.3 2.0l-0.5 1.3l-0.8 0.9M481.5 378.8l-0.8 0.2l-0.4 -0.3l-0.7 -0.8l-0.7 -1.6l-0.5 -2.0l0.0 -1.6l0.4 -1.6l0.7 -1.3l0.8 -0.5l0.8 0.0l0.8 0.8l0.6 1.4l0.3 1.6l0.1 2.0l-0.2 1.6l-0.5 1.2l-0.7 0.9M481.1 378.4l-0.8 -0.3l-0.8 -1.0l-0.6 -1.6l-0.2 -1.6l0.1 -1.6l0.5 -1.6l0.6 -0.8l0.8 -0.2l0.8 0.4l0.6 1.0l0.4 1.6l0.2 1.6l-0.1 1.6l-0.3 1.1l-0.4 0.8l-0.8 0.6" stroke="#111" stroke-width="0.8" fill="none" stroke-linejoin="round"/>
<rect x="413.9" y="350.4" width="1.2" height="1.2" fill="#444"/>
<rect x="429.4" y="347.4" width="1.2" height="1.2" fill="#444"/>
<rect x="435.4" y="356.4" width="1.2" height="1.2" fill="#444"/>
<rect x="444.4" y="352.4" width="1.2" height="1.2" fill="#444"/>
<rect x="453.4" y="341.9" width="1.2" height="1.2" fill="#444"/>
<rect x="438.15" y="366.4" width="1.2" height="1.2" fill="#444"/>
<rect x="443.4" y="373.9" width="1.2" height="1.2" fill="#444"/>
<rect x="453.15" y="368.4" width="1.2" height="1.2" fill="#444"/>
<rect x="458.15" y="379.4" width="1.2" height="1.2" fill="#444"/>
<rect x="488.9" y="346.9" width="1.2" height="1.2" fill="#444"/>
<rect x="500.4" y="381.9" width="1.2" height="1.2" fill="#444"/>
<rect x="476.9" y="401.9" width="1.2" height="1.2" fill="#444"/>
<rect x="478.9" y="405.4" width="1.2" height="1.2" fill="#444"/>
<rect x="444.4" y="370.4" width="1.2" height="1.2" fill="#444"/>
<rect x="457.9" y="362.79999999999995" width="1.2" height="1.2" fill="#444"/>
<rect x="450.2" y="372.0" width="1.2" height="1.2" fill="#444"/>
<rect x="437.0" y="346.59999999999997" width="1.2" height="1.2" fill="#444"/>
<rect x="425.0" y="345.79999999999995" width="1.2" height="1.2" fill="#444"/>
<rect x="430.29999999999995" y="378.2" width="1.2" height="1.2" fill="#444"/>
<rect x="461.29999999999995" y="367.9" width="1.2" height="1.2" fill="#444"/>
<path d="M97.2 493.5l0.7 0.6l0.5 0.8l0.5 2.0l-0.2 1.2l-0.4 1.2l-0.4 0.8l-0.7 0.8M160.1 502.9l-1.2 0.2l-1.2 -0.3l-1.1 -0.7l-0.6 -0.8l-0.2 -0.8l0.1 -1.2l0.6 -1.1l0.8 -0.6l2.0 -0.5l1.2 0.0l2.8 0.7l3.2 -0.5l1.1 0.4l0.8 0.8l0.2 1.2l-0.5 0.8l-1.2 0.4l-2.8 -0.4l-0.8 0.2l-2.4 1.8l-0.8 0.4M173.7 529.9l-0.4 -0.1l-0.8 -0.6l-0.6 -1.1l-0.3 -1.2l-0.4 -6.0l0.1 -1.4l0.4 -0.5l0.8 0.6l1.0 1.7l1.1 5.6l-0.1 2.0l-0.4 0.8l-0.4 0.2M97.2 493.0l0.8 0.7l0.5 0.8l0.5 1.2l0.2 1.2l-0.2 1.2l-0.5 1.6l-0.5 0.9l-0.8 0.7M159.7 503.3l-1.2 0.0l-1.2 -0.4l-1.0 -0.8l-0.5 -0.8l-0.3 -1.2l0.2 -1.2l0.5 -0.8l1.1 -0.9l2.0 -0.5l4.0 0.2l3.2 -0.3l0.8 0.1l0.8 0.5l1.1 1.3l0.3 0.8l-0.1 0.8l-0.5 0.7l-0.7 0.5l-1.3 0.2l-2.4 -0.2l-1.2 0.2l-2.4 1.4l-1.2 0.4M174.4 530.5l-0.8 0.3l-0.8 -0.5l-1.1 -1.4l-0.5 -1.6l-0.7 -7.6l0.3 -2.0l0.4 -0.6l0.4 0.1l0.8 1.1l1.2 2.2l0.4 1.2l0.3 2.8l0.8 3.2l-0.1 1.6l-0.6 1.2M97.2 492.4l0.8 0.6l0.8 1.1l0.5 1.2l0.3 1.6l-0.2 1.6l-0.5 1.6l-0.8 1.2l-0.9 0.8M159.7 503.8l-1.6 -0.1l-1.2 -0.5l-1.1 -1.1l-0.6 -1.2l-0.2 -1.2l0.4 -1.2l0.7 -0.9l1.2 -0.8l2.4 -0.6l7.2 -0.4l1.0 0.3l1.0 0.7l1.4 1.7l0.3 1.2l-0.2 0.8l-0.7 1.1l-0.8 0.6l-1.6 0.3l-3.6 -0.2l-4.0 1.5M174.4 532.3l-0.4 0.0l-0.8 -0.4l-1.0 -1.0l-0.9 -1.6l-0.7 -2.0l-0.7 -8.8l0.2 -2.0l0.3 -0.8l0.4 -0.3l0.8 0.3l0.6 0.8l2.0 3.6l0.4 1.2l0.3 2.8l0.9 3.2l0.1 1.2l-0.4 2.4l-0.4 0.8l-0.7 0.6M97.2 491.6l1.2 0.9l0.8 1.2l0.7 1.6l0.2 1.6l-0.2 2.0l-0.6 1.6l-0.9 1.5l-1.2 0.8M170.4 505.7l-0.5 -0.0l-0.6 -0.4l-1.2 -1.6l-1.3 -0.3l-3.2 -0.2l-4.0 1.1l-1.2 -0.1l-1.2 -0.3l-1.4 -1.0l-1.2 -1.6l-0.3 -1.6l0.5 -1.6l0.5 -0.8l1.1 -0.9l1.2 -0.5l1.6 -0.4l6.8 -0.7l1.2 0.1l1.2 0.4l1.2 0.7l0.9 0.9l0.9 1.2l0.5 1.2l-0.2 1.2l-1.1 2.0l0.5 2.4l-0.3 0.6l-0.4 0.2M175.2 533.9l-0.4 0.2l-0.8 -0.1l-1.6 -1.5l-1.4 -2.0l-1.1 -2.8l-0.3 -2.4l-0.5 -7.2l0.4 -3.2l0.5 -0.9l0.4 -0.3l0.8 0.2l1.0 1.0l3.1 5.2l0.4 1.2l0.3 3.2l1.4 3.2l0.0 1.2l-0.4 1.6l-1.0 2.3l-0.8 1.1M97.2 490.6l1.2 0.8l1.3 1.9l0.7 2.0l0.2 2.0l-0.2 2.0l-0.8 2.0l-1.2 1.5l-1.2 0.7M170.9 506.5l-0.8 0.2l-0.6 -0.2l-1.8 -1.7l-1.6 -0.5l-2.4 -0.2l-3.2 0.7l-1.2 0.1l-1.2 -0.2l-1.2 -0.4l-1.9 -1.4l-1.0 -1.6l-0.3 -2.0l0.4 -1.6l1.0 -1.2l1.4 -0.9l2.0 -0.8l2.0 -0.4l6.0 -0.6l2.0 0.4l2.0 0.9l1.2 0.7l1.4 1.5l0.7 1.2l0.1 0.8l-0.3 1.2l-1.4 2.0l-0.2 2.8l-0.5 0.8l-0.6 0.4M139.7 500.9l-0.8 -0.0l-0.4 -0.8l0.1 -0.8l0.7 -0.6l0.8 0.1l0.4 0.7l-0.3 1.0l-0.5 0.4M175.2 536.4l-0.4 0.1l-0.8 -0.5l-2.8 -3.5l-1.8 -3.2l-0.8 -2.4l-0.2 -2.8l-0.0 -6.8l0.5 -4.0l0.6 -1.2l0.5 -0.3l0.8 0.2l0.8 0.6l3.2 4.6l2.1 2.1l0.5 1.2l0.3 3.2l1.5 2.4l0.4 1.2l0.1 1.6l-0.5 1.7l-3.2 5.0l-0.8 0.8M97.2 489.6l0.8 0.4l0.8 0.7l1.2 1.8l1.0 2.4l0.2 2.4l-0.3 2.4l-0.8 2.0l-1.3 1.8l-1.6 0.9M170.1 507.7l-0.8 -0.1l-2.0 -1.8l-1.2 -0.5l-2.4 -0.2l-3.2 0.4l-1.6 -0.0l-1.6 -0.4l-1.6 -0.8l-1.6 -1.4l-1.3 -2.0l-0.4 -2.0l0.6 -1.6l0.9 -1.2l1.8 -1.2l2.4 -0.9l2.8 -0.6l3.6 -0.5l2.0 -0.0l4.4 0.9l2.0 0.8l1.4 1.1l1.0 1.2l0.4 1.2l0.0 1.6l-0.5 1.2l-1.9 2.2l-0.9 3.0l-1.1 1.1l-1.2 0.5M140.1 504.2l-1.2 0.3l-0.8 0.0l-1.6 -0.6l-1.2 -1.4l-0.4 -1.6l0.1 -2.0l0.7 -1.5l1.6 -1.1l2.0 -0.6l1.6 0.2l1.2 0.8l1.1 1.4l0.6 1.6l-0.3 1.2l-0.7 1.2l-1.3 1.2l-1.4 0.9M175.7 538.9l-0.8 -0.1l-0.8 -0.6l-3.7 -4.9l-2.5 -4.4l-0.9 -2.8l-0.2 -2.8l0.3 -4.0l0.9 -6.0l0.7 -2.4l0.6 -0.9l0.4 -0.2l0.8 0.1l0.8 0.6l3.6 4.3l2.8 2.3l0.8 0.9l0.6 1.3l0.8 3.2l1.1 2.4l0.3 1.2l0.2 1.6l-0.0 1.6l-0.8 2.8l-0.7 1.2l-1.9 1.9l-1.6 3.0l-0.8 0.7M97.2 488.6l1.6 0.9l1.6 2.2l1.1 2.8l0.4 2.8l-0.4 2.8l-1.0 2.4l-1.7 2.0l-1.6 0.8M176.4 541.0l-0.8 0.2l-1.2 -0.6l-4.8 -5.5l-3.1 -5.4l-1.1 -2.8l-0.5 -2.4l-0.0 -2.0l0.5 -3.6l1.0 -3.5l1.3 -6.1l-0.0 -0.8l-0.3 -0.8l-1.0 -1.0l-1.2 -0.4l-6.0 -0.1l-2.8 -0.7l-1.6 -0.9l-1.8 -1.3l-1.6 -1.6l-0.8 -1.2l-0.4 -1.6l0.6 -1.6l2.0 -2.0l2.4 -1.4l2.4 -0.9l2.4 -0.6l4.4 -0.5l2.4 0.1l5.2 1.0l1.6 0.5l2.0 1.4l1.5 2.0l0.3 1.6l-0.4 2.0l-1.0 1.5l-2.0 2.2l-1.1 2.3l-1.1 1.6l-0.0 0.8l0.8 1.2l1.4 1.5l2.4 1.6l1.2 1.1l2.4 3.0l2.5 6.4l0.3 2.0l0.2 2.8l-0.4 3.2l-0.8 2.4l-1.0 1.4l-2.0 1.8l-1.6 2.9l-0.8 0.8M140.4 506.1l-1.6 0.3l-1.2 -0.0l-1.2 -0.4l-1.2 -0.6l-1.7 -1.7l-0.6 -1.2l-0.4 -1.6l-0.0 -1.6l0.1 -1.2l0.5 -1.2l0.5 -0.8l0.8 -0.7l1.6 -0.9l1.6 -0.7l1.2 -0.3l2.0 0.1l2.0 0.8l2.8 2.9l0.8 1.6l0.0 0.8l-0.3 1.2l-1.3 2.1l-2.0 1.9l-2.4 1.2M97.2 487.6l0.8 0.3l1.2 0.8l1.7 2.2l1.2 3.2l0.4 3.2l-0.3 2.8l-1.1 2.8l-0.8 1.2l-1.1 1.2l-0.8 0.6l-1.2 0.5M176.9 543.4l-1.2 -0.0l-1.2 -0.7l-2.8 -3.1l-2.8 -2.6l-1.0 -1.3l-2.5 -4.8l-1.0 -2.4l-1.0 -4.0l-0.0 -2.4l0.5 -4.0l2.2 -8.0l-0.0 -1.2l-0.4 -0.7l-0.8 -0.5l-0.8 -0.2l-4.8 -0.5l-2.0 -0.4l-2.0 -0.8l-4.0 -2.2l-2.4 -0.8l-1.2 0.3l-3.2 3.0l-2.8 1.4l-1.6 0.5l-1.6 0.2l-1.2 -0.1l-1.2 -0.4l-2.0 -1.2l-1.4 -1.2l-0.8 -1.2l-0.6 -2.0l-0.3 -2.0l0.2 -2.4l0.7 -2.0l1.0 -1.2l2.0 -1.4l2.0 -1.0l1.6 -0.3l2.4 -0.0l2.4 0.6l1.3 0.9l2.3 1.9l0.8 0.4l0.8 0.1l1.2 -0.3l4.8 -2.4l2.8 -1.1l2.8 -0.6l4.8 -0.4l2.0 0.2l6.4 1.1l2.4 1.2l2.1 1.9l1.2 2.0l0.2 1.2l-0.1 1.2l-0.5 1.2l-0.8 1.2l-2.9 3.2l-0.8 1.6l-0.3 1.2l0.3 0.7l0.5 0.5l2.3 1.3l1.3 1.1l3.7 5.6l2.4 5.6l0.5 6.8l-0.2 2.0l-0.4 2.0l-1.2 3.2l-1.2 1.6l-2.1 1.7l-2.0 2.7l-0.8 0.5M97.2 486.5l1.2 0.4l1.2 0.9l1.8 2.3l1.3 3.6l0.4 1.6l0.1 2.0l-0.1 2.0l-0.3 1.6l-1.3 2.8l-1.9 2.4l-1.2 0.9l-1.2 0.4M177.7 545.5l-1.2 0.1l-1.6 -0.6l-6.9 -6.1l-1.2 -1.6l-3.3 -6.8l-1.1 -3.6l-0.6 -4.0l0.3 -5.2l1.3 -7.2l-0.1 -0.8l-0.3 -0.4l-1.5 -0.8l-5.4 -1.4l-4.4 -1.8l-2.0 -0.3l-1.6 0.5l-2.4 2.0l-1.2 0.8l-3.2 1.3l-1.6 0.3l-1.6 0.0l-1.6 -0.2l-1.6 -0.7l-2.0 -1.4l-1.8 -1.9l-0.8 -1.6l-0.7 -2.8l-0.1 -2.4l0.4 -2.4l0.7 -1.6l1.5 -1.7l2.8 -2.1l1.2 -0.6l1.2 -0.3l3.2 -0.0l2.0 0.3l1.6 0.7l3.2 2.1l1.6 0.4l2.0 -0.4l4.4 -1.9l2.0 -0.6l3.2 -0.5l4.0 -0.3l7.6 1.0l2.0 0.5l2.4 1.2l2.7 2.2l0.9 1.2l0.5 1.2l0.3 1.2l-0.1 1.2l-0.8 2.0l-3.1 4.0l-0.2 1.2l0.3 0.8l2.3 2.5l1.9 2.7l2.4 4.0l1.6 3.6l0.8 2.8l0.6 7.6l-0.3 2.4l-0.6 2.4l-2.0 4.5l-1.2 1.4l-3.9 3.3l-0.9 0.6M97.2 485.4l1.2 0.4l1.2 0.7l1.1 1.2l1.1 1.6l0.8 1.6l0.8 2.4l0.5 2.0l0.1 2.4l-0.2 2.4l-0.4 1.6l-1.6 3.2l-1.2 1.6l-1.0 0.9l-1.2 0.7l-1.2 0.3M178.4 547.4l-1.2 0.3l-1.2 -0.2l-1.6 -0.8l-2.8 -1.9l-4.8 -4.3l-1.0 -1.2l-0.9 -1.6l-3.5 -8.0l-1.1 -4.8l-0.2 -2.4l0.0 -4.0l0.8 -7.2l-0.1 -0.8l-0.6 -0.8l-1.5 -0.8l-6.2 -2.0l-2.1 -0.3l-1.6 0.5l-3.2 2.4l-2.8 1.3l-2.4 0.7l-2.8 0.0l-2.0 -0.4l-2.0 -1.0l-2.4 -1.9l-1.5 -1.7l-1.1 -2.0l-0.8 -2.8l-0.1 -2.0l0.4 -2.4l0.6 -2.0l1.0 -1.6l3.9 -3.8l1.2 -0.7l1.6 -0.5l4.8 -0.1l2.4 0.8l4.0 2.4l1.6 0.3l2.0 -0.3l4.0 -1.5l2.4 -0.6l4.8 -0.6l2.8 0.1l7.2 1.0l2.4 0.6l1.6 0.7l2.0 1.2l1.3 1.0l1.1 1.2l1.4 2.4l0.3 1.2l0.0 1.2l-0.6 2.0l-2.4 3.6l-0.2 0.8l0.0 0.8l0.6 1.2l4.4 6.8l1.2 2.4l1.1 2.8l0.5 2.0l0.7 4.4l0.4 5.2l-0.8 4.4l-2.3 6.0l-1.5 1.8l-5.2 3.5M97.2 484.4l1.2 0.4l1.6 0.9l1.2 1.2l1.1 1.6l1.0 2.0l0.9 2.4l1.2 6.0l0.2 0.6l0.4 0.2l0.4 -0.1l2.4 -1.8l1.2 -0.6l2.0 -0.4l2.0 -0.1l3.6 0.3l1.6 0.5l1.3 1.0l0.4 0.8l0.2 1.2l-0.1 1.6l-0.7 1.6l-1.4 1.6l-1.7 1.0l-1.6 0.3l-3.2 -1.0l-2.8 0.2l-0.8 -0.1l-1.0 -0.8l-1.8 -2.2l-0.4 -0.3l-0.4 0.0l-1.2 1.2l-2.1 2.9l-1.1 1.2l-2.0 1.4l-1.6 0.5M178.4 549.8l-1.2 0.1l-1.6 -0.4l-2.0 -1.1l-3.2 -2.1l-4.8 -4.4l-1.1 -1.4l-1.1 -2.0l-3.2 -7.6l-1.5 -6.0l-0.2 -2.0l-0.1 -3.2l0.7 -7.6l-0.2 -1.2l-0.7 -0.8l-1.6 -0.8l-2.7 -0.8l-1.9 -0.4l-1.2 -0.1l-1.6 0.5l-2.8 2.3l-3.2 1.6l-2.8 0.6l-2.8 0.1l-2.0 -0.4l-2.4 -1.1l-3.3 -2.7l-1.9 -2.0l-1.1 -2.0l-1.2 -2.8l-0.2 -1.6l0.3 -2.0l1.1 -2.8l1.4 -2.4l1.7 -1.9l3.2 -3.1l1.6 -0.8l1.6 -0.4l4.8 0.0l2.4 0.8l4.4 2.4l1.6 0.4l1.6 -0.3l5.6 -1.6l4.8 -0.6l2.8 0.0l7.6 0.9l3.2 0.8l3.6 1.7l2.4 1.7l1.8 2.0l1.3 2.4l0.2 1.2l-0.0 1.2l-0.7 2.0l-2.0 3.2l-0.2 0.8l-0.1 0.8l0.7 1.6l2.3 3.6l1.7 3.2l1.6 4.0l1.7 7.6l0.2 6.0l-0.8 4.4l-1.5 4.4l-1.1 2.4l-1.1 1.4l-1.6 1.4l-2.8 1.8l-2.4 1.1M97.2 494.3l0.8 1.0l0.3 1.6l-0.3 1.6l-0.8 1.3M159.7 502.5l-1.2 0.1l-0.8 -0.3l-0.9 -0.6l-0.4 -0.8l-0.2 -0.8l0.2 -0.8l0.5 -0.8l0.8 -0.5l1.2 -0.3l1.2 0.1l0.8 0.4l0.7 0.7l0.2 0.8l-0.3 1.2l-1.0 1.2l-0.8 0.4M173.2 527.6l-0.4 -0.1l-0.2 -0.6l-0.0 -0.8l0.2 -0.5l0.5 0.9l-0.1 1.1M97.2 494.3l0.8 1.1l0.3 1.5l-0.3 1.4l-0.8 1.4M159.2 502.6l-1.2 -0.1l-0.8 -0.4l-0.7 -0.8l-0.3 -0.8l0.0 -0.8l0.4 -0.8l0.6 -0.6l1.2 -0.5l1.2 0.0l0.9 0.3l0.9 0.8l0.2 0.8l-0.3 1.2l-0.5 0.8l-0.8 0.6l-0.8 0.3M172.9 527.0l0.0 -0.7l0.1 0.6l-0.1 0.1M97.2 494.4l0.8 1.1l0.2 1.4l-0.2 1.3l-0.8 1.4M159.2 502.6l-1.1 -0.1l-0.8 -0.4l-0.8 -0.8l-0.3 -0.8l0.0 -0.8l0.4 -0.8l0.6 -0.5l1.2 -0.5l1.2 -0.0l0.8 0.3l0.9 0.7l0.2 0.8l-0.1 0.8l-0.7 1.2l-0.7 0.6l-0.8 0.3M97.2 494.5l0.8 1.2l0.2 1.2l-0.2 1.2l-0.8 1.5M159.2 502.5l-0.8 0.0l-1.1 -0.4l-0.7 -0.8l-0.3 -0.8l-0.0 -0.8l0.3 -0.8l1.0 -0.8l0.8 -0.2l1.2 -0.0l0.8 0.3l0.8 0.7l0.2 0.8l-0.0 0.8l-0.4 0.8l-0.8 0.8l-1.0 0.4M97.2 494.6l0.8 1.1l0.1 1.2l-0.2 1.2l-0.7 1.4M158.8 502.5l-1.2 -0.3l-0.7 -0.5l-0.5 -0.8l-0.1 -0.8l0.2 -0.8l0.7 -0.9l0.8 -0.4l1.2 -0.1l0.9 0.2l0.7 0.5l0.5 0.7l0.1 0.8l-0.3 0.8l-0.5 0.8l-1.0 0.6l-0.8 0.2M97.2 494.6l0.7 1.1l0.2 1.2l-0.2 1.2l-0.7 1.2M160.1 502.1l-0.8 0.3l-0.8 0.0l-0.8 -0.2l-0.8 -0.7l-0.5 -1.0l0.1 -0.8l0.3 -0.8l0.5 -0.4l0.8 -0.4l1.2 -0.2l1.2 0.5l0.6 0.5l0.3 0.8l-0.1 0.8l-0.4 0.8l-0.8 0.8M97.2 494.7l0.6 1.0l0.2 1.2l-0.2 1.2l-0.6 1.1M159.7 502.3l-0.8 0.2l-0.8 -0.1l-0.8 -0.5l-0.5 -0.6l-0.3 -0.8l0.0 -0.8l0.4 -0.8l0.8 -0.6l0.8 -0.2l1.2 0.0l0.9 0.4l0.6 0.8l0.1 0.8l-0.2 0.8l-0.6 0.8l-0.8 0.6" stroke="#111" stroke-width="0.8" fill="none" stroke-linejoin="round"/>
<rect x="129.4" y="503.4" width="1.2" height="1.2" fill="#444"/>
<rect x="149.4" y="501.4" width="1.2" height="1.2" fill="#444"/>
<rect x="161.4" y="516.4" width="1.2" height="1.2" fill="#444"/>
<rect x="189.4" y="519.4" width="1.2" height="1.2" fill="#444"/>
<path d="M334.6 531.4l-0.8 0.2l-0.8 0.0l-3.6 -1.0l-0.8 -0.3l-0.8 -0.9l-0.5 -1.3l0.1 -2.0l0.8 -1.8l1.2 -1.2l2.4 -1.0l2.0 -0.2l1.6 0.3l1.1 1.1l0.8 2.4l0.2 1.2l-0.2 1.2l-0.5 1.2l-0.6 0.8l-1.6 1.3M329.0 510.5l-0.4 -0.2l-0.3 -0.6l0.3 -0.6l0.4 -0.1l0.4 0.2l0.2 0.5l-0.2 0.7l-0.4 0.1M333.8 532.7l-0.8 0.1l-4.0 -1.1l-1.2 -0.7l-0.9 -1.3l-0.5 -2.0l0.1 -2.4l0.5 -3.8l0.3 -0.6l0.5 -0.4l2.0 -0.2l2.0 0.6l3.2 0.5l1.2 0.7l0.6 0.8l0.9 3.2l0.1 1.2l-0.2 1.2l-0.6 1.2l-0.8 1.0l-1.2 1.2l-1.2 0.8M330.2 512.5l-0.8 0.3l-1.2 -0.6l-0.9 -0.9l-0.6 -1.2l-0.1 -0.8l0.2 -1.2l0.6 -0.9l0.8 -0.5l0.8 0.0l0.8 0.6l1.0 1.6l0.1 2.0l-0.3 1.0l-0.4 0.6M333.4 535.7l-0.8 -0.0l-0.8 -0.4l-1.6 -1.2l-2.4 -1.4l-1.6 -1.4l-0.9 -2.0l-0.7 -4.0l-0.0 -3.2l0.4 -2.0l0.8 -0.9l2.8 -1.4l1.6 -2.4l0.8 -0.4l0.8 0.3l0.8 0.8l1.7 3.2l2.8 2.0l0.5 1.2l0.6 4.0l0.0 1.6l-0.5 1.6l-1.7 2.8l-1.2 2.4l-0.6 0.5l-0.8 0.3M334.6 537.0l-1.2 0.2l-1.2 -0.1l-1.2 -0.4l-1.1 -0.6l-2.9 -2.1l-1.8 -1.5l-0.9 -1.2l-0.7 -1.6l-0.7 -2.0l-0.3 -2.4l-0.1 -2.4l0.3 -2.0l0.4 -1.6l0.6 -1.1l0.8 -0.9l2.0 -1.5l0.2 -0.5l0.1 -0.8l-0.6 -1.6l-1.3 -1.9l-1.2 -1.4l-2.0 -1.4l-1.2 -2.0l-0.4 -1.3l-0.0 -1.2l0.5 -0.8l0.7 -0.5l1.2 -0.2l2.8 0.2l2.8 -0.2l1.2 0.3l0.8 0.5l0.6 1.1l0.3 2.0l1.5 6.3l1.7 2.1l1.7 3.2l1.9 2.0l0.7 1.2l0.2 1.2l-0.0 2.4l0.4 3.2l-0.3 2.0l-2.4 6.0l-0.8 0.8l-1.1 0.5M336.2 538.5l-4.4 0.0l-1.2 -0.3l-1.6 -0.6l-2.0 -1.3l-2.4 -1.9l-1.0 -1.1l-0.9 -1.6l-1.4 -3.6l-0.5 -4.0l0.6 -5.2l1.0 -4.0l0.1 -1.2l-0.5 -1.2l-2.5 -2.8l-1.3 -3.7l-1.6 -2.3l0.0 -0.4l0.4 -0.8l1.7 -1.2l3.1 -1.1l3.2 -0.4l1.6 0.0l4.0 1.0l1.2 0.8l0.9 1.3l0.3 1.2l-0.1 3.2l0.7 3.2l0.6 1.1l2.5 2.9l3.0 5.2l0.5 1.6l-0.1 3.2l0.5 4.4l-0.2 2.0l-1.8 6.0l-1.1 1.2l-1.3 0.4M337.0 540.5l-1.2 0.1l-4.8 -0.2l-2.8 -0.9l-4.4 -3.2l-1.2 -1.4l-0.9 -1.6l-1.6 -3.6l-0.6 -2.8l-0.3 -2.8l0.2 -4.4l-0.2 -4.4l-0.3 -1.6l-0.6 -1.2l-2.2 -2.8l-1.5 -2.3l-0.9 -1.7l-0.4 -1.6l-0.0 -1.2l0.4 -1.2l0.9 -0.9l1.6 -1.0l3.2 -1.4l2.0 -0.6l2.8 -0.3l2.0 0.1l4.4 1.2l1.6 0.6l1.6 1.5l1.4 2.0l0.3 1.6l-0.7 2.8l0.2 1.6l0.7 1.6l2.0 2.4l1.1 1.6l2.3 4.8l0.4 1.6l0.7 4.8l0.3 4.4l-0.1 1.6l-0.3 1.6l-1.7 4.4l-1.4 1.8l-0.8 0.6l-1.2 0.4M332.6 543.3l-2.0 0.1l-2.0 -0.7l-2.0 -1.4l-4.0 -3.6l-1.1 -1.2l-0.7 -1.2l-2.4 -5.6l-0.8 -4.0l-0.2 -6.4l-0.8 -4.4l-0.7 -1.6l-2.3 -2.8l-1.9 -3.2l-0.8 -1.6l-0.2 -1.2l0.2 -2.8l0.9 -1.6l1.6 -1.4l3.2 -1.5l4.4 -1.2l3.2 -0.4l2.4 0.3l4.8 1.2l2.3 1.0l1.7 1.2l1.6 2.0l0.9 2.0l0.3 1.6l0.1 3.2l0.3 2.0l0.6 1.6l2.8 5.6l2.1 7.2l0.2 1.6l0.1 6.4l-0.6 2.4l-1.0 2.4l-1.1 2.0l-1.8 2.0l-1.3 1.0l-1.2 0.4l-4.8 0.6M297.4 502.1l-1.2 0.2l-1.2 -0.4l-0.4 -0.4l-0.2 -0.6l0.2 -1.0l0.8 -1.0l1.4 -0.8l1.4 -0.4l1.2 0.3l0.8 0.9l0.1 0.8l-0.2 0.4l-1.1 1.1l-1.6 0.9M333.8 546.2l-1.6 0.1l-1.6 -0.2l-1.6 -0.5l-1.2 -0.6l-6.0 -5.2l-1.4 -1.7l-2.8 -6.0l-1.3 -3.6l-0.6 -3.6l-0.1 -6.0l-1.0 -3.6l-0.9 -1.6l-3.1 -3.9l-2.8 -2.9l-0.9 -1.6l-0.2 -1.2l0.3 -1.2l1.4 -2.4l1.0 -1.2l2.0 -1.6l4.4 -2.3l5.6 -1.0l2.8 -0.3l2.4 0.3l6.0 1.4l3.2 1.3l2.1 1.4l1.2 1.6l1.9 3.6l0.2 1.6l-0.0 4.8l0.1 1.2l2.5 5.2l0.8 3.7l1.3 3.9l0.4 6.8l-0.2 2.4l-1.3 5.2l-0.8 1.6l-1.0 1.2l-2.4 2.4l-1.6 1.2l-2.0 0.7l-3.2 0.6M297.4 504.9l-1.2 0.1l-1.2 -0.1l-2.8 -1.0l-1.1 -1.0l-0.2 -0.8l0.0 -0.8l0.4 -1.2l0.9 -1.5l0.8 -1.0l1.2 -1.0l1.2 -0.7l1.6 -0.6l1.2 -0.2l1.2 0.1l1.9 0.9l2.4 2.0l0.7 1.2l0.1 1.2l-0.7 1.1l-1.1 0.9l-3.0 1.6l-2.3 0.8M335.0 548.9l-1.6 -0.0l-1.6 -0.3l-3.2 -1.0l-1.6 -0.8l-1.2 -0.8l-4.4 -3.9l-1.8 -2.0l-1.1 -2.0l-2.0 -4.4l-1.7 -4.4l-0.7 -4.0l-0.3 -6.0l-1.0 -3.6l-0.7 -1.2l-1.1 -1.4l-2.0 -2.1l-2.7 -2.5l-2.1 -2.3l-0.8 -0.5l-1.2 -0.2l-5.2 1.1l-2.8 0.0l-3.2 -0.7l-1.6 -1.0l-0.5 -0.8l-0.3 -0.8l-0.1 -1.2l0.3 -1.2l1.4 -2.8l1.8 -2.0l1.8 -1.2l1.6 -0.8l2.0 -0.7l1.6 -0.1l1.6 0.3l1.6 0.5l4.8 2.3l1.6 0.2l2.4 -0.7l4.0 -2.0l1.6 -0.5l5.6 -0.7l2.4 -0.1l5.6 0.8l4.4 1.3l4.0 1.8l1.2 0.9l1.0 1.1l2.1 3.2l0.6 1.6l-0.0 7.2l0.4 1.6l1.7 4.0l0.9 4.0l1.0 3.2l0.6 7.2l-0.0 2.4l-1.3 6.4l-0.7 1.6l-0.7 1.1l-2.8 2.9l-1.2 1.0l-4.4 2.4l-2.0 0.6M335.8 551.3l-1.6 0.1l-1.6 -0.3l-6.4 -2.4l-1.9 -1.4l-4.1 -3.9l-1.5 -1.7l-2.4 -4.0l-2.2 -5.6l-1.4 -5.2l-0.4 -2.4l-0.1 -3.6l-0.4 -2.1l-1.2 -3.1l-1.6 -2.0l-5.6 -5.2l-1.3 -0.8l-1.5 -0.3l-5.2 0.7l-3.2 -0.0l-2.4 -0.6l-1.2 -0.7l-0.8 -0.7l-0.6 -0.8l-0.5 -1.2l-0.1 -1.2l0.1 -1.6l0.6 -1.6l0.8 -1.6l0.9 -1.3l1.2 -1.2l2.0 -1.4l2.0 -1.2l2.0 -0.8l2.0 -0.4l2.0 -0.0l3.2 0.5l2.0 0.5l2.8 1.2l1.2 0.2l1.6 -0.3l4.0 -1.6l2.0 -0.6l3.2 -0.4l5.2 -0.2l4.4 0.5l6.4 1.7l2.0 1.0l2.0 1.2l1.2 1.0l1.5 1.6l2.0 2.8l0.9 2.4l0.2 2.0l-0.2 4.0l0.1 1.6l1.6 5.2l0.6 3.2l1.4 4.8l0.4 7.2l-0.1 2.4l-1.5 6.8l-0.6 1.6l-1.1 1.6l-2.6 3.2l-1.4 1.2l-4.8 2.5l-2.0 0.7M336.6 553.7l-2.0 0.3l-1.6 -0.3l-7.6 -3.0l-1.9 -1.4l-5.3 -5.4l-3.3 -5.0l-1.3 -2.8l-2.5 -8.4l-1.2 -8.4l-0.9 -2.4l-1.2 -1.6l-3.2 -2.5l-2.6 -2.7l-1.4 -0.8l-1.6 -0.2l-5.6 0.5l-2.8 -0.1l-2.4 -0.9l-1.2 -0.7l-1.1 -1.0l-0.7 -1.2l-0.5 -1.2l-0.1 -1.2l0.2 -1.6l0.7 -2.0l1.4 -2.4l1.3 -1.6l1.2 -1.1l4.4 -2.7l2.4 -1.0l2.4 -0.4l2.4 -0.1l2.4 0.2l2.4 0.4l3.2 1.0l1.2 0.1l2.0 -0.4l4.4 -1.3l2.8 -0.5l4.8 -0.3l3.6 0.2l7.2 1.4l2.8 1.0l2.8 1.6l2.0 1.4l3.4 3.7l1.5 2.4l0.8 2.8l0.1 2.0l-0.2 5.3l2.9 12.3l0.6 8.0l-0.1 2.8l-1.2 5.2l-0.8 2.8l-1.0 2.0l-2.7 4.0l-1.5 1.6l-1.8 1.2l-2.0 1.0l-4.0 1.4M253.4 505.3l-0.8 -0.1l-0.7 -0.7l-0.4 -0.8l-0.2 -1.2l0.1 -0.8l0.4 -0.8l0.8 -0.8l0.8 -0.1l0.8 0.3l0.4 0.5l0.4 1.7l-0.4 1.8l-0.5 0.6l-0.7 0.4M334.6 530.6l-1.2 0.2l-2.0 -0.8l-1.8 -1.1l-0.7 -1.2l0.0 -1.2l0.9 -1.6l1.6 -1.4l1.6 -0.7l1.2 -0.1l1.2 0.4l0.9 1.0l0.6 1.6l0.1 1.6l-0.3 1.2l-0.9 1.3l-1.2 0.8M334.6 530.2l-1.2 0.1l-1.7 -0.6l-1.6 -1.2l-0.5 -1.2l0.1 -1.2l1.0 -1.6l1.5 -1.1l1.2 -0.4l1.2 0.0l1.1 0.7l0.7 1.2l0.4 1.2l0.0 1.2l-0.3 1.2l-0.7 0.9l-1.2 0.8M335.0 529.7l-1.2 0.3l-1.2 -0.2l-1.5 -0.9l-0.8 -1.2l-0.2 -1.2l0.5 -1.2l1.1 -1.2l1.3 -0.7l1.2 -0.1l0.8 0.2l0.8 0.7l0.5 1.1l0.3 1.2l-0.1 1.2l-0.6 1.2l-0.9 0.8M334.2 529.7l-1.2 -0.1l-1.2 -0.6l-0.9 -0.9l-0.3 -1.2l0.2 -1.2l0.9 -1.2l0.9 -0.6l1.2 -0.3l0.8 0.1l0.8 0.5l0.7 1.1l0.3 1.2l-0.1 1.2l-0.4 0.8l-0.9 0.9l-0.8 0.3M334.6 529.3l-0.8 0.2l-1.2 -0.4l-0.9 -0.6l-0.7 -1.2l0.0 -1.2l0.4 -0.8l0.8 -0.8l1.2 -0.6l0.8 -0.0l0.8 0.3l0.6 0.7l0.5 1.2l0.1 1.2l-0.3 0.8l-0.5 0.7l-0.8 0.5M334.6 529.0l-0.8 0.2l-1.2 -0.4l-0.8 -0.7l-0.4 -0.8l-0.1 -0.8l0.5 -1.2l0.8 -0.7l0.8 -0.4l0.8 0.0l0.8 0.4l0.6 0.7l0.3 0.8l-0.1 1.6l-0.5 0.8l-0.7 0.5M334.6 528.7l-0.8 0.2l-0.8 -0.2l-0.8 -0.6l-0.5 -0.8l-0.0 -0.8l0.2 -0.8l0.7 -0.7l0.8 -0.4l1.2 0.1l0.7 0.6l0.3 0.8l0.1 0.8l-0.2 0.8l-0.9 1.0" stroke="#111" stroke-width="0.8" fill="none" stroke-linejoin="round"/>
<rect x="281.9" y="503.15" width="1.2" height="1.2" fill="#444"/>
<rect x="309.4" y="531.9" width="1.2" height="1.2" fill="#444"/>
<path d="M479.5 533.4l-0.8 -0.0l-0.8 -0.6l-0.9 -1.2l-0.8 -1.6l-0.5 -1.6l-1.1 -6.4l0.2 -2.0l1.9 -5.8l0.8 -1.5l0.4 -0.4l0.8 -0.4l0.8 0.1l0.8 0.4l1.0 0.8l0.9 1.2l0.9 2.0l0.4 2.8l-0.2 5.6l-0.5 2.8l-1.7 4.1l-0.8 1.2l-0.8 0.5M479.9 533.8l-0.8 0.2l-0.8 -0.3l-0.9 -0.9l-1.2 -2.0l-0.8 -2.4l-1.2 -6.4l0.2 -2.0l2.0 -6.4l1.1 -1.9l1.2 -0.6l0.8 0.1l1.2 0.7l2.1 2.1l0.8 2.0l0.4 2.8l-0.4 6.4l-0.4 2.4l-1.9 4.4l-0.6 1.0l-0.8 0.8M479.5 534.9l-0.8 -0.1l-1.1 -0.8l-1.9 -3.2l-0.9 -2.4l-1.3 -6.8l0.2 -2.0l1.3 -4.8l0.6 -1.6l0.7 -1.6l0.8 -1.0l0.8 -0.6l0.8 -0.2l0.8 0.2l1.2 0.6l2.3 1.8l0.9 1.1l0.6 1.7l0.3 4.0l-0.6 7.2l-0.4 1.6l-2.5 5.2l-1.0 1.3l-0.8 0.4M480.3 535.8l-1.2 0.3l-1.2 -0.5l-1.0 -1.1l-1.6 -2.8l-1.2 -2.8l-1.5 -7.6l0.9 -6.0l0.5 -1.6l2.7 -5.4l1.2 -1.2l1.2 -0.4l0.8 0.5l1.9 2.5l3.2 2.8l0.6 1.2l0.2 1.2l0.1 5.6l-0.4 3.2l-0.3 3.6l-0.6 1.6l-2.8 5.2l-0.7 1.0l-0.8 0.7M479.5 537.3l-0.8 -0.1l-0.8 -0.4l-1.2 -1.1l-3.3 -5.7l-0.8 -2.0l-1.1 -6.0l0.0 -2.0l0.7 -5.6l0.3 -1.2l1.4 -2.8l0.4 -1.6l0.1 -1.6l-0.2 -1.2l-0.4 -0.8l-2.6 -2.8l-0.3 -0.8l-0.1 -1.2l0.4 -0.8l1.0 -0.8l1.3 -0.5l1.6 -0.4l1.2 0.1l1.0 0.4l4.2 3.6l0.6 1.2l0.5 3.6l0.4 1.2l0.8 1.2l2.6 2.8l0.4 0.8l0.3 1.2l-0.1 3.2l0.2 3.2l-0.4 3.2l-0.1 2.8l-0.3 1.6l-0.7 1.6l-3.6 6.0l-1.4 1.3l-1.2 0.4M480.3 538.6l-1.2 0.1l-0.8 -0.2l-1.2 -0.8l-0.8 -0.8l-4.3 -6.4l-0.9 -2.0l-0.8 -5.6l-0.1 -2.4l0.6 -6.8l1.4 -4.4l-0.1 -1.6l-0.5 -1.2l-0.9 -1.1l-2.4 -2.2l-1.6 -1.1l-1.2 -0.3l-4.4 -0.3l-2.4 -0.6l-1.9 -0.8l-0.8 -0.8l0.1 -0.4l0.8 -0.8l1.4 -0.7l1.2 -0.2l5.2 0.5l4.4 -1.0l7.2 -0.6l1.6 0.4l1.6 1.0l2.8 2.0l1.4 1.8l0.4 1.2l0.4 2.8l0.5 2.0l0.9 2.0l1.9 2.8l0.6 1.6l0.2 6.4l-0.4 6.4l-0.6 2.8l-1.4 2.8l-3.4 4.8l-1.3 1.1l-1.2 0.6M479.9 540.5l-0.8 0.1l-1.2 -0.3l-1.6 -1.3l-4.6 -6.1l-1.3 -2.0l-0.7 -1.6l-0.4 -2.0l-0.5 -8.8l0.1 -2.0l1.2 -6.8l-0.1 -1.2l-0.5 -1.2l-2.4 -2.2l-2.0 -1.0l-10.8 -1.1l-6.0 -2.0l-0.8 -0.6l-0.4 -1.1l0.4 -1.2l0.7 -0.8l0.9 -0.5l1.2 -0.4l8.4 -1.2l5.6 0.4l5.6 -0.8l6.4 -0.2l2.4 0.5l2.8 1.2l2.0 1.4l1.6 1.6l0.9 2.0l0.3 3.6l0.4 1.8l0.8 2.2l1.6 3.2l0.6 2.0l0.2 6.0l-0.5 7.6l-0.4 2.0l-0.7 2.0l-0.9 2.0l-1.1 1.7l-1.3 1.5l-2.3 2.0l-1.6 1.1l-1.2 0.5M480.3 542.5l-1.2 0.2l-1.2 -0.2l-1.2 -0.6l-1.2 -0.9l-5.2 -6.9l-1.4 -2.4l-0.7 -1.6l-0.6 -3.2l-0.3 -8.8l0.9 -5.2l0.2 -2.8l-0.3 -1.2l-0.4 -0.8l-1.8 -1.6l-1.9 -0.8l-10.5 -0.8l-6.4 -1.7l-1.2 -0.5l-0.9 -0.6l-0.7 -0.8l-0.4 -1.6l0.5 -1.6l0.9 -1.2l0.9 -0.8l1.7 -0.9l1.6 -0.5l5.6 -0.6l3.2 -0.5l1.6 -0.1l5.2 0.5l5.6 -0.7l5.6 -0.1l3.2 0.4l2.8 1.0l2.4 1.5l2.0 2.0l0.7 1.2l0.3 1.2l0.3 4.0l0.3 1.5l2.2 6.1l0.5 2.4l0.3 6.0l-0.7 8.0l-0.4 2.0l-0.9 2.8l-0.8 2.0l-0.8 1.2l-1.4 1.5l-4.0 3.3l-2.0 1.2M479.9 544.5l-2.0 -0.1l-1.6 -0.5l-1.6 -0.8l-1.2 -1.0l-4.4 -6.4l-2.1 -4.0l-0.9 -3.2l-0.4 -3.2l0.2 -4.0l-0.0 -3.6l0.9 -5.6l-0.1 -1.7l-0.7 -1.5l-1.3 -1.1l-1.3 -0.5l-10.7 -0.8l-6.0 -1.5l-3.1 -1.3l-1.8 -1.6l-0.7 -1.2l-0.3 -1.2l0.0 -0.8l0.6 -1.2l2.1 -2.1l1.6 -1.0l1.6 -0.8l3.6 -0.9l4.0 -0.2l4.8 -0.6l6.8 0.4l6.0 -0.6l5.2 -0.1l3.2 0.4l2.4 0.9l3.2 1.9l1.3 1.1l1.1 1.2l0.6 1.2l0.5 1.2l0.5 5.2l1.8 6.0l0.7 4.0l0.3 8.0l-0.6 5.6l-1.7 6.0l-0.7 1.6l-1.0 1.7l-1.6 1.7l-4.0 3.7l-1.6 0.9l-1.6 0.4M405.5 495.1l0.4 -0.2l0.4 0.1l0.4 0.4l0.4 1.8l-0.4 4.0l-0.4 0.8l-0.4 0.1l-0.4 -0.4M479.1 546.5l-2.0 -0.1l-1.6 -0.5l-2.0 -1.2l-1.6 -1.4l-3.5 -5.2l-2.7 -5.2l-1.9 -6.0l-0.4 -2.0l0.4 -3.6l0.1 -3.2l1.3 -4.8l-0.0 -2.0l-0.6 -1.2l-0.8 -0.8l-1.5 -0.5l-4.8 -0.1l-5.2 -0.8l-5.2 -1.1l-2.4 -0.8l-3.6 -1.8l-1.2 -0.9l-1.1 -1.2l-0.7 -1.2l-0.3 -1.2l0.2 -1.2l0.5 -1.2l1.0 -1.2l1.2 -1.1l2.4 -1.4l2.0 -0.9l4.8 -1.2l8.8 -0.7l8.0 0.3l6.0 -0.5l4.8 -0.1l2.8 0.3l3.2 1.1l4.0 2.3l2.0 1.9l1.0 1.6l0.6 1.6l0.5 4.8l1.4 5.2l0.4 2.4l0.4 4.0l0.3 7.2l-0.0 2.4l-0.5 2.8l-0.7 3.2l-1.3 4.0l-1.0 2.4l-1.4 2.0l-3.3 3.7l-1.6 1.4l-1.2 0.7l-1.6 0.7l-2.4 0.3M405.5 492.1l0.4 -0.1l0.8 0.3l0.8 1.0l0.7 1.9l0.2 2.4l-0.2 4.0l-0.4 2.0l-0.5 1.2l-0.6 0.7l-0.8 0.4l-0.4 -0.2M482.3 548.6l-2.0 0.3l-3.6 -0.2l-1.6 -0.6l-1.6 -1.0l-2.0 -1.5l-1.4 -1.5l-2.0 -3.2l-2.4 -4.4l-1.2 -2.4l-2.9 -7.6l-0.8 -4.0l-1.3 -4.0l0.0 -2.0l0.4 -1.7l0.6 -0.7l1.4 -0.2l0.8 -0.4l0.4 -1.0l-0.4 -1.0l-0.4 -0.3l-0.8 -0.1l-1.6 0.7l-0.4 0.0l-2.4 -1.3l-2.1 -0.8l-9.1 -1.7l-6.0 -2.4l-2.4 -1.3l-1.1 -1.0l-0.7 -1.2l-0.4 -1.2l-0.2 -1.6l0.2 -1.2l0.5 -1.2l2.2 -2.4l1.5 -1.0l4.4 -2.0l5.6 -1.3l9.2 -0.7l9.2 0.3l5.2 -0.6l2.4 -0.1l4.8 0.3l3.2 0.9l2.4 1.1l2.4 1.4l2.4 2.1l1.1 1.6l0.8 2.0l0.8 5.6l1.3 5.6l0.7 8.8l0.2 5.6l-0.2 2.8l-1.6 6.8l-1.7 4.4l-1.0 2.0l-4.3 5.6l-2.9 2.1l-1.6 0.8M405.5 489.7l0.4 -0.1l0.8 0.2l0.8 0.8l0.6 1.1l0.9 2.8l0.3 3.2l-0.2 4.8l-0.6 2.8l-1.4 2.4l-0.8 0.6l-0.8 0.0M479.5 532.5l-0.8 0.0l-0.7 -0.5l-1.3 -2.0l-0.6 -2.0l-1.0 -6.0l0.3 -2.0l1.8 -4.8l1.0 -1.6l0.9 -0.3l0.8 0.2l0.8 0.6l1.3 1.5l0.7 2.0l0.2 2.4l-0.1 4.4l-0.6 3.2l-1.5 3.6l-0.6 0.8l-0.6 0.5M479.1 532.1l-0.4 -0.1l-0.8 -0.6l-1.2 -2.1l-1.2 -5.6l-0.1 -1.6l0.4 -2.0l1.7 -4.4l0.8 -1.3l0.8 -0.3l0.8 0.1l0.8 0.6l1.2 1.7l0.5 2.0l0.2 3.2l-0.2 3.6l-0.6 2.8l-1.5 3.2l-0.4 0.4l-0.8 0.4M479.5 531.4l-0.4 0.1l-0.8 -0.3l-0.6 -0.7l-0.6 -1.1l-0.5 -1.7l-0.9 -5.2l0.2 -2.0l1.7 -4.0l0.7 -1.2l0.4 -0.4l0.8 -0.1l1.2 0.7l0.9 1.4l0.5 2.0l0.2 3.2l-0.2 2.8l-0.5 2.8l-1.0 2.4l-1.1 1.3M479.5 530.7l-0.4 0.2l-0.8 -0.3l-0.9 -1.3l-0.6 -2.0l-0.9 -4.8l0.4 -2.0l1.5 -3.6l0.9 -1.2l0.8 -0.2l1.2 0.7l0.8 1.4l0.3 1.7l0.2 3.2l-0.2 2.4l-0.4 2.4l-1.1 2.4l-0.8 1.0M479.1 530.1l-0.8 -0.3l-0.8 -1.3l-1.1 -4.4l-0.2 -1.6l0.4 -2.0l1.3 -2.8l0.8 -1.2l0.8 -0.3l0.8 0.3l0.8 1.3l0.4 1.9l0.2 3.2l-0.2 2.4l-0.6 2.4l-1.0 1.8l-0.8 0.6M479.5 529.0l-0.8 0.2l-0.8 -1.0l-1.1 -3.7l-0.3 -2.0l0.3 -1.6l0.7 -1.6l1.2 -1.9l0.8 -0.4l0.8 0.4l0.5 1.1l0.5 2.4l0.1 2.0l-0.2 2.0l-0.5 2.0l-0.5 1.2l-0.7 0.9M479.1 528.2l-0.4 -0.1l-0.4 -0.3l-0.4 -0.8l-0.9 -2.9l-0.2 -1.6l0.2 -1.2l0.5 -1.2l1.2 -1.7l0.8 -0.4l0.6 0.5l0.5 1.2l0.4 2.0l0.1 1.6l-0.2 1.6l-0.6 1.9l-0.5 0.9l-0.7 0.5" stroke="#111" stroke-width="0.8" fill="none" stroke-linejoin="round"/>
<rect x="415.4" y="495.4" width="1.2" height="1.2" fill="#444"/>
<rect x="421.4" y="493.4" width="1.2" height="1.2" fill="#444"/>
<rect x="424.4" y="498.4" width="1.2" height="1.2" fill="#444"/>
<rect x="428.4" y="494.4" width="1.2" height="1.2" fill="#444"/>
<rect x="431.9" y="500.4" width="1.2" height="1.2" fill="#444"/>
<rect x="418.4" y="503.4" width="1.2" height="1.2" fill="#444"/>
<rect x="434.4" y="503.4" width="1.2" height="1.2" fill="#444"/>
<rect x="414.4" y="489.4" width="1.2" height="1.2" fill="#444"/>
<rect x="450.4" y="510.4" width="1.2" height="1.2" fill="#444"/>
<rect x="451.9" y="515.4" width="1.2" height="1.2" fill="#444"/>
<rect x="438.4" y="519.4" width="1.2" height="1.2" fill="#444"/>
<rect x="455.4" y="524.4" width="1.2" height="1.2" fill="#444"/>
<rect x="456.9" y="529.4" width="1.2" height="1.2" fill="#444"/>
<rect x="419.4" y="521.9" width="1.2" height="1.2" fill="#444"/>
<rect x="440.4" y="530.4" width="1.2" height="1.2" fill="#444"/>
<rect x="441.9" y="544.4" width="1.2" height="1.2" fill="#444"/>
<rect x="484.4" y="549.4" width="1.2" height="1.2" fill="#444"/>
<rect x="481.4" y="548.4" width="1.2" height="1.2" fill="#444"/>
<rect x="427.4" y="490.4" width="1.2" height="1.2" fill="#444"/>
<rect x="437.4" y="496.4" width="1.2" height="1.2" fill="#444"/>
<rect x="445.4" y="506.4" width="1.2" height="1.2" fill="#444"/>
<rect x="414.09999999999997" y="490.2" width="1.2" height="1.2" fill="#444"/>
<rect x="424.9" y="503.2" width="1.2" height="1.2" fill="#444"/>
<rect x="427.79999999999995" y="500.79999999999995" width="1.2" height="1.2" fill="#444"/>
<rect x="411.2" y="497.59999999999997" width="1.2" height="1.2" fill="#444"/>
<rect x="414.7" y="503.7" width="1.2" height="1.2" fill="#444"/>
<rect x="437.29999999999995" y="498.4" width="1.2" height="1.2" fill="#444"/>
<rect x="412.4" y="507.0" width="1.2" height="1.2" fill="#444"/>
<rect x="414.2" y="491.5" width="1.2" height="1.2" fill="#444"/>
<rect x="437.9" y="498.5" width="1.2" height="1.2" fill="#444"/>
<rect x="428.4" y="497.09999999999997" width="1.2" height="1.2" fill="#444"/>
<rect x="421.09999999999997" y="494.5" width="1.2" height="1.2" fill="#444"/>
<rect x="425.2" y="499.2" width="1.2" height="1.2" fill="#444"/>
<rect x="429.59999999999997" y="492.09999999999997" width="1.2" height="1.2" fill="#444"/>
<rect x="418.4" y="503.4" width="1.2" height="1.2" fill="#444"/>
<rect x="457.2" y="529.6" width="1.2" height="1.2" fill="#444"/>
<rect x="433.5" y="515.5" width="1.2" height="1.2" fill="#444"/>
<rect x="444.29999999999995" y="536.4" width="1.2" height="1.2" fill="#444"/>
<rect x="438.29999999999995" y="515.9" width="1.2" height="1.2" fill="#444"/>
<rect x="432.09999999999997" y="510.4" width="1.2" height="1.2" fill="#444"/>
<rect x="458.09999999999997" y="515.4" width="1.2" height="1.2" fill="#444"/>
<rect x="443.2" y="519.8" width="1.2" height="1.2" fill="#444"/>
<rect x="434.09999999999997" y="523.5" width="1.2" height="1.2" fill="#444"/>
<line x1="96.25" y1="310.50" x2="202.50" y2="310.50" stroke="#999" stroke-width="1.0"/>
<line x1="202.50" y1="310.50" x2="202.50" y2="417.50" stroke="#aaa" stroke-width="1.0"/>
<line x1="96.25" y1="310.00" x2="96.25" y2="418.30" stroke="#000" stroke-width="1.6"/>
<line x1="95.45" y1="417.50" x2="202.50" y2="417.50" stroke="#000" stroke-width="1.6"/>
<path d="M93.25,415.00H96.25M94.65,407.93H96.25M94.65,403.79H96.25M94.65,400.85H96.25M94.65,398.57H96.25M94.65,396.71H96.25M94.65,395.14H96.25M94.65,393.78H96.25M94.65,392.58H96.25M93.25,391.50H96.25M94.65,384.43H96.25M94.65,380.29H96.25M94.65,377.35H96.25M94.65,375.07H96.25M94.65,373.21H96.25M94.65,371.64H96.25M94.65,370.28H96.25M94.65,369.08H96.25M93.25,368.00H96.25M94.65,360.93H96.25M94.65,356.79H96.25M94.65,353.85H96.25M94.65,351.57H96.25M94.65,349.71H96.25M94.65,348.14H96.25M94.65,346.78H96.25M94.65,345.58H96.25M93.25,344.50H96.25M94.65,337.43H96.25M94.65,333.29H96.25M94.65,330.35H96.25M94.65,328.07H96.25M94.65,326.21H96.25M94.65,324.64H96.25M94.65,323.28H96.25M94.65,322.08H96.25M93.25,321.00H96.25M94.65,313.93H96.25M99.25,417.5V420.50M106.32,417.5V419.10M110.46,417.5V419.10M113.40,417.5V419.10M115.68,417.5V419.10M117.54,417.5V419.10M119.11,417.5V419.10M120.47,417.5V419.10M121.67,417.5V419.10M122.75,417.5V420.50M129.82,417.5V419.10M133.96,417.5V419.10M136.90,417.5V419.10M139.18,417.5V419.10M141.04,417.5V419.10M142.61,417.5V419.10M143.97,417.5V419.10M145.17,417.5V419.10M146.25,417.5V420.50M153.32,417.5V419.10M157.46,417.5V419.10M160.40,417.5V419.10M162.68,417.5V419.10M164.54,417.5V419.10M166.11,417.5V419.10M167.47,417.5V419.10M168.67,417.5V419.10M169.75,417.5V420.50M176.82,417.5V419.10M180.96,417.5V419.10M183.90,417.5V419.10M186.18,417.5V419.10M188.04,417.5V419.10M189.61,417.5V419.10M190.97,417.5V419.10M192.17,417.5V419.10M193.25,417.5V420.50M200.32,417.5V419.10" stroke="#000" stroke-width="1" fill="none"/>
<line x1="96.25" y1="364.00" x2="202.50" y2="364.00" stroke="#000" stroke-width="1.6"/>
<line x1="152.00" y1="310.50" x2="152.00" y2="417.50" stroke="#000" stroke-width="1.6"/>
<text x="97.25" y="321.00" font-size="10.0" text-anchor="start" stroke="#000" stroke-width="0.22">8.59</text>
<text x="200.90" y="321.00" font-size="10.0" text-anchor="end" stroke="#000" stroke-width="0.22">25.3</text>
<text x="98.75" y="416.10" font-size="10.0" text-anchor="start" stroke="#000" stroke-width="0.22">1.01</text>
<text x="201.10" y="415.90" font-size="10.0" text-anchor="end" stroke="#000" stroke-width="0.22">65.2</text>
<line x1="251.25" y1="310.50" x2="356.25" y2="310.50" stroke="#999" stroke-width="1.0"/>
<line x1="356.25" y1="310.50" x2="356.25" y2="417.50" stroke="#aaa" stroke-width="1.0"/>
<line x1="251.25" y1="310.00" x2="251.25" y2="418.30" stroke="#000" stroke-width="1.6"/>
<line x1="250.45" y1="417.50" x2="356.25" y2="417.50" stroke="#000" stroke-width="1.6"/>
<path d="M248.25,415.00H251.25M249.65,407.93H251.25M249.65,403.79H251.25M249.65,400.85H251.25M249.65,398.57H251.25M249.65,396.71H251.25M249.65,395.14H251.25M249.65,393.78H251.25M249.65,392.58H251.25M248.25,391.50H251.25M249.65,384.43H251.25M249.65,380.29H251.25M249.65,377.35H251.25M249.65,375.07H251.25M249.65,373.21H251.25M249.65,371.64H251.25M249.65,370.28H251.25M249.65,369.08H251.25M248.25,368.00H251.25M249.65,360.93H251.25M249.65,356.79H251.25M249.65,353.85H251.25M249.65,351.57H251.25M249.65,349.71H251.25M249.65,348.14H251.25M249.65,346.78H251.25M249.65,345.58H251.25M248.25,344.50H251.25M249.65,337.43H251.25M249.65,333.29H251.25M249.65,330.35H251.25M249.65,328.07H251.25M249.65,326.21H251.25M249.65,324.64H251.25M249.65,323.28H251.25M249.65,322.08H251.25M248.25,321.00H251.25M249.65,313.93H251.25M254.25,417.5V420.50M261.32,417.5V419.10M265.46,417.5V419.10M268.40,417.5V419.10M270.68,417.5V419.10M272.54,417.5V419.10M274.11,417.5V419.10M275.47,417.5V419.10M276.67,417.5V419.10M277.75,417.5V420.50M284.82,417.5V419.10M288.96,417.5V419.10M291.90,417.5V419.10M294.18,417.5V419.10M296.04,417.5V419.10M297.61,417.5V419.10M298.97,417.5V419.10M300.17,417.5V419.10M301.25,417.5V420.50M308.32,417.5V419.10M312.46,417.5V419.10M315.40,417.5V419.10M317.68,417.5V419.10M319.54,417.5V419.10M321.11,417.5V419.10M322.47,417.5V419.10M323.67,417.5V419.10M324.75,417.5V420.50M331.82,417.5V419.10M335.96,417.5V419.10M338.90,417.5V419.10M341.18,417.5V419.10M343.04,417.5V419.10M344.61,417.5V419.10M345.97,417.5V419.10M347.17,417.5V419.10M348.25,417.5V420.50" stroke="#000" stroke-width="1" fill="none"/>
<line x1="251.25" y1="364.25" x2="356.25" y2="364.25" stroke="#000" stroke-width="1.6"/>
<line x1="307.00" y1="310.50" x2="307.00" y2="417.50" stroke="#000" stroke-width="1.6"/>
<text x="252.25" y="321.00" font-size="10.0" text-anchor="start" stroke="#000" stroke-width="0.22">1.79</text>
<text x="354.65" y="321.00" font-size="10.0" text-anchor="end" stroke="#000" stroke-width="0.22">19.6</text>
<text x="253.75" y="416.10" font-size="10.0" text-anchor="start" stroke="#000" stroke-width="0.22">0.893</text>
<text x="354.85" y="415.90" font-size="10.0" text-anchor="end" stroke="#000" stroke-width="0.22">77.7</text>
<line x1="404.50" y1="310.50" x2="511.25" y2="310.50" stroke="#999" stroke-width="1.0"/>
<line x1="511.25" y1="310.50" x2="511.25" y2="417.50" stroke="#aaa" stroke-width="1.0"/>
<line x1="404.50" y1="310.00" x2="404.50" y2="418.30" stroke="#000" stroke-width="1.6"/>
<line x1="403.70" y1="417.50" x2="511.25" y2="417.50" stroke="#000" stroke-width="1.6"/>
<path d="M401.50,415.00H404.5M402.90,407.93H404.5M402.90,403.79H404.5M402.90,400.85H404.5M402.90,398.57H404.5M402.90,396.71H404.5M402.90,395.14H404.5M402.90,393.78H404.5M402.90,392.58H404.5M401.50,391.50H404.5M402.90,384.43H404.5M402.90,380.29H404.5M402.90,377.35H404.5M402.90,375.07H404.5M402.90,373.21H404.5M402.90,371.64H404.5M402.90,370.28H404.5M402.90,369.08H404.5M401.50,368.00H404.5M402.90,360.93H404.5M402.90,356.79H404.5M402.90,353.85H404.5M402.90,351.57H404.5M402.90,349.71H404.5M402.90,348.14H404.5M402.90,346.78H404.5M402.90,345.58H404.5M401.50,344.50H404.5M402.90,337.43H404.5M402.90,333.29H404.5M402.90,330.35H404.5M402.90,328.07H404.5M402.90,326.21H404.5M402.90,324.64H404.5M402.90,323.28H404.5M402.90,322.08H404.5M401.50,321.00H404.5M402.90,313.93H404.5M407.50,417.5V420.50M414.57,417.5V419.10M418.71,417.5V419.10M421.65,417.5V419.10M423.93,417.5V419.10M425.79,417.5V419.10M427.36,417.5V419.10M428.72,417.5V419.10M429.92,417.5V419.10M431.00,417.5V420.50M438.07,417.5V419.10M442.21,417.5V419.10M445.15,417.5V419.10M447.43,417.5V419.10M449.29,417.5V419.10M450.86,417.5V419.10M452.22,417.5V419.10M453.42,417.5V419.10M454.50,417.5V420.50M461.57,417.5V419.10M465.71,417.5V419.10M468.65,417.5V419.10M470.93,417.5V419.10M472.79,417.5V419.10M474.36,417.5V419.10M475.72,417.5V419.10M476.92,417.5V419.10M478.00,417.5V420.50M485.07,417.5V419.10M489.21,417.5V419.10M492.15,417.5V419.10M494.43,417.5V419.10M496.29,417.5V419.10M497.86,417.5V419.10M499.22,417.5V419.10M500.42,417.5V419.10M501.50,417.5V420.50M508.57,417.5V419.10" stroke="#000" stroke-width="1" fill="none"/>
<line x1="404.50" y1="365.00" x2="511.25" y2="365.00" stroke="#000" stroke-width="1.6"/>
<line x1="465.50" y1="310.50" x2="465.50" y2="417.50" stroke="#000" stroke-width="1.6"/>
<text x="405.50" y="321.00" font-size="10.0" text-anchor="start" stroke="#000" stroke-width="0.22">3.43</text>
<text x="509.65" y="321.00" font-size="10.0" text-anchor="end" stroke="#000" stroke-width="0.22">17.9</text>
<text x="407.00" y="416.10" font-size="10.0" text-anchor="start" stroke="#000" stroke-width="0.22">1.29</text>
<text x="509.85" y="415.90" font-size="10.0" text-anchor="end" stroke="#000" stroke-width="0.22">77.5</text>
<line x1="96.25" y1="459.50" x2="202.50" y2="459.50" stroke="#999" stroke-width="1.0"/>
<line x1="202.50" y1="459.50" x2="202.50" y2="566.25" stroke="#aaa" stroke-width="1.0"/>
<line x1="96.25" y1="459.00" x2="96.25" y2="567.05" stroke="#000" stroke-width="1.6"/>
<line x1="95.45" y1="566.25" x2="202.50" y2="566.25" stroke="#000" stroke-width="1.6"/>
<path d="M93.25,563.75H96.25M94.65,556.68H96.25M94.65,552.54H96.25M94.65,549.60H96.25M94.65,547.32H96.25M94.65,545.46H96.25M94.65,543.89H96.25M94.65,542.53H96.25M94.65,541.33H96.25M93.25,540.25H96.25M94.65,533.18H96.25M94.65,529.04H96.25M94.65,526.10H96.25M94.65,523.82H96.25M94.65,521.96H96.25M94.65,520.39H96.25M94.65,519.03H96.25M94.65,517.83H96.25M93.25,516.75H96.25M94.65,509.68H96.25M94.65,505.54H96.25M94.65,502.60H96.25M94.65,500.32H96.25M94.65,498.46H96.25M94.65,496.89H96.25M94.65,495.53H96.25M94.65,494.33H96.25M93.25,493.25H96.25M94.65,486.18H96.25M94.65,482.04H96.25M94.65,479.10H96.25M94.65,476.82H96.25M94.65,474.96H96.25M94.65,473.39H96.25M94.65,472.03H96.25M94.65,470.83H96.25M93.25,469.75H96.25M94.65,462.68H96.25M99.25,566.25V569.25M106.32,566.25V567.85M110.46,566.25V567.85M113.40,566.25V567.85M115.68,566.25V567.85M117.54,566.25V567.85M119.11,566.25V567.85M120.47,566.25V567.85M121.67,566.25V567.85M122.75,566.25V569.25M129.82,566.25V567.85M133.96,566.25V567.85M136.90,566.25V567.85M139.18,566.25V567.85M141.04,566.25V567.85M142.61,566.25V567.85M143.97,566.25V567.85M145.17,566.25V567.85M146.25,566.25V569.25M153.32,566.25V567.85M157.46,566.25V567.85M160.40,566.25V567.85M162.68,566.25V567.85M164.54,566.25V567.85M166.11,566.25V567.85M167.47,566.25V567.85M168.67,566.25V567.85M169.75,566.25V569.25M176.82,566.25V567.85M180.96,566.25V567.85M183.90,566.25V567.85M186.18,566.25V567.85M188.04,566.25V567.85M189.61,566.25V567.85M190.97,566.25V567.85M192.17,566.25V567.85M193.25,566.25V569.25M200.32,566.25V567.85" stroke="#000" stroke-width="1" fill="none"/>
<line x1="96.25" y1="512.50" x2="202.50" y2="512.50" stroke="#000" stroke-width="1.6"/>
<line x1="152.00" y1="459.50" x2="152.00" y2="566.25" stroke="#000" stroke-width="1.6"/>
<text x="97.25" y="470.00" font-size="10.0" text-anchor="start" stroke="#000" stroke-width="0.22">21.2</text>
<text x="200.90" y="470.00" font-size="10.0" text-anchor="end" stroke="#000" stroke-width="0.22">41.1</text>
<text x="98.75" y="564.85" font-size="10.0" text-anchor="start" stroke="#000" stroke-width="0.22">1.01</text>
<text x="201.10" y="564.65" font-size="10.0" text-anchor="end" stroke="#000" stroke-width="0.22">36.8</text>
<line x1="250.00" y1="459.50" x2="356.00" y2="459.50" stroke="#999" stroke-width="1.0"/>
<line x1="356.00" y1="459.50" x2="356.00" y2="566.00" stroke="#aaa" stroke-width="1.0"/>
<line x1="250.00" y1="459.00" x2="250.00" y2="566.80" stroke="#000" stroke-width="1.6"/>
<line x1="249.20" y1="566.00" x2="356.00" y2="566.00" stroke="#000" stroke-width="1.6"/>
<path d="M247.00,563.50H250.0M248.40,556.43H250.0M248.40,552.29H250.0M248.40,549.35H250.0M248.40,547.07H250.0M248.40,545.21H250.0M248.40,543.64H250.0M248.40,542.28H250.0M248.40,541.08H250.0M247.00,540.00H250.0M248.40,532.93H250.0M248.40,528.79H250.0M248.40,525.85H250.0M248.40,523.57H250.0M248.40,521.71H250.0M248.40,520.14H250.0M248.40,518.78H250.0M248.40,517.58H250.0M247.00,516.50H250.0M248.40,509.43H250.0M248.40,505.29H250.0M248.40,502.35H250.0M248.40,500.07H250.0M248.40,498.21H250.0M248.40,496.64H250.0M248.40,495.28H250.0M248.40,494.08H250.0M247.00,493.00H250.0M248.40,485.93H250.0M248.40,481.79H250.0M248.40,478.85H250.0M248.40,476.57H250.0M248.40,474.71H250.0M248.40,473.14H250.0M248.40,471.78H250.0M248.40,470.58H250.0M247.00,469.50H250.0M248.40,462.43H250.0M253.00,566.0V569.00M260.07,566.0V567.60M264.21,566.0V567.60M267.15,566.0V567.60M269.43,566.0V567.60M271.29,566.0V567.60M272.86,566.0V567.60M274.22,566.0V567.60M275.42,566.0V567.60M276.50,566.0V569.00M283.57,566.0V567.60M287.71,566.0V567.60M290.65,566.0V567.60M292.93,566.0V567.60M294.79,566.0V567.60M296.36,566.0V567.60M297.72,566.0V567.60M298.92,566.0V567.60M300.00,566.0V569.00M307.07,566.0V567.60M311.21,566.0V567.60M314.15,566.0V567.60M316.43,566.0V567.60M318.29,566.0V567.60M319.86,566.0V567.60M321.22,566.0V567.60M322.42,566.0V567.60M323.50,566.0V569.00M330.57,566.0V567.60M334.71,566.0V567.60M337.65,566.0V567.60M339.93,566.0V567.60M341.79,566.0V567.60M343.36,566.0V567.60M344.72,566.0V567.60M345.92,566.0V567.60M347.00,566.0V569.00M354.07,566.0V567.60" stroke="#000" stroke-width="1" fill="none"/>
<line x1="250.00" y1="512.50" x2="356.00" y2="512.50" stroke="#000" stroke-width="1.6"/>
<line x1="306.75" y1="459.50" x2="306.75" y2="566.00" stroke="#000" stroke-width="1.6"/>
<text x="251.00" y="470.00" font-size="10.0" text-anchor="start" stroke="#000" stroke-width="0.22">6.99</text>
<text x="354.40" y="470.00" font-size="10.0" text-anchor="end" stroke="#000" stroke-width="0.22">33.6</text>
<text x="252.50" y="564.60" font-size="10.0" text-anchor="start" stroke="#000" stroke-width="0.22">0</text>
<text x="354.60" y="564.40" font-size="10.0" text-anchor="end" stroke="#000" stroke-width="0.22">59.4</text>
<line x1="404.50" y1="456.25" x2="511.25" y2="456.25" stroke="#999" stroke-width="1.0"/>
<line x1="511.25" y1="456.25" x2="511.25" y2="565.00" stroke="#aaa" stroke-width="1.0"/>
<line x1="404.50" y1="455.75" x2="404.50" y2="565.80" stroke="#000" stroke-width="1.6"/>
<line x1="403.70" y1="565.00" x2="511.25" y2="565.00" stroke="#000" stroke-width="1.6"/>
<path d="M401.50,562.50H404.5M402.90,555.43H404.5M402.90,551.29H404.5M402.90,548.35H404.5M402.90,546.07H404.5M402.90,544.21H404.5M402.90,542.64H404.5M402.90,541.28H404.5M402.90,540.08H404.5M401.50,539.00H404.5M402.90,531.93H404.5M402.90,527.79H404.5M402.90,524.85H404.5M402.90,522.57H404.5M402.90,520.71H404.5M402.90,519.14H404.5M402.90,517.78H404.5M402.90,516.58H404.5M401.50,515.50H404.5M402.90,508.43H404.5M402.90,504.29H404.5M402.90,501.35H404.5M402.90,499.07H404.5M402.90,497.21H404.5M402.90,495.64H404.5M402.90,494.28H404.5M402.90,493.08H404.5M401.50,492.00H404.5M402.90,484.93H404.5M402.90,480.79H404.5M402.90,477.85H404.5M402.90,475.57H404.5M402.90,473.71H404.5M402.90,472.14H404.5M402.90,470.78H404.5M402.90,469.58H404.5M401.50,468.50H404.5M402.90,461.43H404.5M402.90,457.29H404.5M407.50,565.0V568.00M414.57,565.0V566.60M418.71,565.0V566.60M421.65,565.0V566.60M423.93,565.0V566.60M425.79,565.0V566.60M427.36,565.0V566.60M428.72,565.0V566.60M429.92,565.0V566.60M431.00,565.0V568.00M438.07,565.0V566.60M442.21,565.0V566.60M445.15,565.0V566.60M447.43,565.0V566.60M449.29,565.0V566.60M450.86,565.0V566.60M452.22,565.0V566.60M453.42,565.0V566.60M454.50,565.0V568.00M461.57,565.0V566.60M465.71,565.0V566.60M468.65,565.0V566.60M470.93,565.0V566.60M472.79,565.0V566.60M474.36,565.0V566.60M475.72,565.0V566.60M476.92,565.0V566.60M478.00,565.0V568.00M485.07,565.0V566.60M489.21,565.0V566.60M492.15,565.0V566.60M494.43,565.0V566.60M496.29,565.0V566.60M497.86,565.0V566.60M499.22,565.0V566.60M500.42,565.0V566.60M501.50,565.0V568.00M508.57,565.0V566.60" stroke="#000" stroke-width="1" fill="none"/>
<line x1="404.50" y1="510.75" x2="511.25" y2="510.75" stroke="#000" stroke-width="1.6"/>
<line x1="465.50" y1="456.25" x2="465.50" y2="565.00" stroke="#000" stroke-width="1.6"/>
<text x="405.50" y="466.75" font-size="10.0" text-anchor="start" stroke="#000" stroke-width="0.22">14.9</text>
<text x="509.65" y="466.75" font-size="10.0" text-anchor="end" stroke="#000" stroke-width="0.22">21.4</text>
<text x="407.00" y="563.60" font-size="10.0" text-anchor="start" stroke="#000" stroke-width="0.22">2.72</text>
<text x="509.85" y="563.40" font-size="10.0" text-anchor="end" stroke="#000" stroke-width="0.22">60.9</text>
<rect x="184.6" y="648.7" width="11.9" height="12.1" fill="#111"/>
<text transform="translate(205.01,660.80) scale(1.029,1)" font-size="18.08" fill="#000">control</text>
<rect x="283.2" y="648.7" width="12.3" height="11.4" fill="#fff" stroke="#111" stroke-width="1.4"/>
<text transform="translate(304.76,661.00) scale(1.041,1)" font-size="17.62" fill="#000">AMD3100</text>
<text transform="translate(89.97,693.50) scale(1.006,1)" font-size="18.49" fill="#000">BM sinusoids</text>
<text transform="translate(233.86,693.50) scale(1.013,1)" font-size="18.49" fill="#000">LN sinusoids</text>
<text transform="translate(430.59,693.80) scale(1.036,1)" font-size="18.08" fill="#000">blood</text>
<line x1="97.40" y1="712.40" x2="97.40" y2="811.85" stroke="#000" stroke-width="1.6"/>
<line x1="96.60" y1="811.10" x2="203.80" y2="811.10" stroke="#000" stroke-width="1.6"/>
<line x1="132.70" y1="811.10" x2="132.70" y2="813.30" stroke="#000" stroke-width="1.2"/>
<line x1="167.80" y1="811.10" x2="167.80" y2="813.30" stroke="#000" stroke-width="1.2"/>
<line x1="203.80" y1="810.50" x2="203.80" y2="813.10" stroke="#000" stroke-width="1.2"/>
<line x1="95.20" y1="811.10" x2="97.40" y2="811.10" stroke="#000" stroke-width="1.3"/>
<text x="94.10" y="812.99" font-size="12.0" text-anchor="end">0</text>
<line x1="95.20" y1="791.46" x2="97.40" y2="791.46" stroke="#000" stroke-width="1.3"/>
<text x="94.10" y="792.95" font-size="12.0" text-anchor="end">20</text>
<line x1="95.20" y1="771.82" x2="97.40" y2="771.82" stroke="#000" stroke-width="1.3"/>
<text x="94.10" y="775.81" font-size="12.0" text-anchor="end">40</text>
<line x1="95.20" y1="752.18" x2="97.40" y2="752.18" stroke="#000" stroke-width="1.3"/>
<text x="94.10" y="755.67" font-size="12.0" text-anchor="end">60</text>
<line x1="95.20" y1="732.54" x2="97.40" y2="732.54" stroke="#000" stroke-width="1.3"/>
<text x="94.10" y="735.23" font-size="12.0" text-anchor="end">80</text>
<line x1="95.20" y1="712.90" x2="97.40" y2="712.90" stroke="#000" stroke-width="1.3"/>
<text x="94.10" y="714.79" font-size="12.0" text-anchor="end">100</text>
<rect x="104.30" y="803.50" width="10.60" height="7.60" fill="#000"/>
<line x1="120.35" y1="783.90" x2="120.35" y2="780.00" stroke="#000" stroke-width="1.4"/>
<line x1="117.35" y1="780.00" x2="123.35" y2="780.00" stroke="#000" stroke-width="1.4"/>
<rect x="115.65" y="784.65" width="9.40" height="26.45" fill="#fff" stroke="#000" stroke-width="1.5"/>
<rect x="139.60" y="792.70" width="10.90" height="18.40" fill="#000"/>
<line x1="155.80" y1="766.90" x2="155.80" y2="759.90" stroke="#000" stroke-width="1.4"/>
<line x1="152.80" y1="759.90" x2="158.80" y2="759.90" stroke="#000" stroke-width="1.4"/>
<rect x="151.25" y="767.65" width="9.10" height="43.45" fill="#fff" stroke="#000" stroke-width="1.5"/>
<line x1="180.35" y1="738.50" x2="180.35" y2="726.90" stroke="#000" stroke-width="1.4"/>
<line x1="177.35" y1="726.90" x2="183.35" y2="726.90" stroke="#000" stroke-width="1.4"/>
<rect x="174.90" y="738.50" width="10.90" height="72.60" fill="#000"/>
<line x1="191.20" y1="729.90" x2="191.20" y2="725.80" stroke="#000" stroke-width="1.4"/>
<line x1="188.20" y1="725.80" x2="194.20" y2="725.80" stroke="#000" stroke-width="1.4"/>
<rect x="186.55" y="730.65" width="9.30" height="80.45" fill="#fff" stroke="#000" stroke-width="1.5"/>
<line x1="106.25" y1="768.75" x2="123.10" y2="768.75" stroke="#000" stroke-width="1.6"/>
<path d="M108.90,762.50L113.10,762.50M109.95,760.68L112.05,764.32M112.05,760.68L109.95,764.32" stroke="#222" stroke-width="1.3" fill="none"/>
<path d="M113.80,762.50L118.00,762.50M114.85,760.68L116.95,764.32M116.95,760.68L114.85,764.32" stroke="#222" stroke-width="1.3" fill="none"/>
<path d="M118.70,762.50L122.90,762.50M119.75,760.68L121.85,764.32M121.85,760.68L119.75,764.32" stroke="#222" stroke-width="1.3" fill="none"/>
<line x1="140.60" y1="747.90" x2="157.50" y2="747.90" stroke="#000" stroke-width="1.6"/>
<path d="M143.30,742.00L147.50,742.00M144.35,740.18L146.45,743.82M146.45,740.18L144.35,743.82" stroke="#222" stroke-width="1.3" fill="none"/>
<path d="M148.20,742.00L152.40,742.00M149.25,740.18L151.35,743.82M151.35,740.18L149.25,743.82" stroke="#222" stroke-width="1.3" fill="none"/>
<path d="M153.10,742.00L157.30,742.00M154.15,740.18L156.25,743.82M156.25,740.18L154.15,743.82" stroke="#222" stroke-width="1.3" fill="none"/>
<line x1="244.20" y1="712.30" x2="244.20" y2="812.65" stroke="#000" stroke-width="1.6"/>
<line x1="243.40" y1="811.90" x2="353.70" y2="811.90" stroke="#000" stroke-width="1.6"/>
<line x1="280.50" y1="811.90" x2="280.50" y2="814.10" stroke="#000" stroke-width="1.2"/>
<line x1="317.00" y1="811.90" x2="317.00" y2="814.10" stroke="#000" stroke-width="1.2"/>
<line x1="353.70" y1="811.30" x2="353.70" y2="813.90" stroke="#000" stroke-width="1.2"/>
<line x1="242.00" y1="811.90" x2="244.20" y2="811.90" stroke="#000" stroke-width="1.3"/>
<text x="240.10" y="815.19" font-size="12.0" text-anchor="end">0</text>
<line x1="242.00" y1="797.74" x2="244.20" y2="797.74" stroke="#000" stroke-width="1.3"/>
<text x="240.10" y="801.03" font-size="12.0" text-anchor="end">10</text>
<line x1="242.00" y1="783.59" x2="244.20" y2="783.59" stroke="#000" stroke-width="1.3"/>
<text x="240.10" y="786.27" font-size="12.0" text-anchor="end">20</text>
<line x1="242.00" y1="769.43" x2="244.20" y2="769.43" stroke="#000" stroke-width="1.3"/>
<text x="240.10" y="772.32" font-size="12.0" text-anchor="end">30</text>
<line x1="242.00" y1="755.27" x2="244.20" y2="755.27" stroke="#000" stroke-width="1.3"/>
<text x="240.10" y="758.36" font-size="12.0" text-anchor="end">40</text>
<line x1="242.00" y1="741.11" x2="244.20" y2="741.11" stroke="#000" stroke-width="1.3"/>
<text x="240.10" y="745.00" font-size="12.0" text-anchor="end">50</text>
<line x1="242.00" y1="726.96" x2="244.20" y2="726.96" stroke="#000" stroke-width="1.3"/>
<text x="240.10" y="728.95" font-size="12.0" text-anchor="end">60</text>
<line x1="242.00" y1="712.80" x2="244.20" y2="712.80" stroke="#000" stroke-width="1.3"/>
<text x="240.10" y="715.99" font-size="12.0" text-anchor="end">70</text>
<rect x="251.50" y="806.30" width="10.80" height="5.60" fill="#000"/>
<line x1="268.15" y1="803.80" x2="268.15" y2="800.80" stroke="#000" stroke-width="1.4"/>
<line x1="265.15" y1="800.80" x2="271.15" y2="800.80" stroke="#000" stroke-width="1.4"/>
<rect x="263.05" y="804.55" width="10.20" height="7.35" fill="#fff" stroke="#000" stroke-width="1.5"/>
<line x1="293.85" y1="798.60" x2="293.85" y2="794.60" stroke="#000" stroke-width="1.4"/>
<line x1="290.85" y1="794.60" x2="296.85" y2="794.60" stroke="#000" stroke-width="1.4"/>
<rect x="288.50" y="798.60" width="10.70" height="13.30" fill="#000"/>
<line x1="304.10" y1="800.80" x2="304.10" y2="797.70" stroke="#000" stroke-width="1.4"/>
<line x1="301.10" y1="797.70" x2="307.10" y2="797.70" stroke="#000" stroke-width="1.4"/>
<rect x="299.95" y="801.55" width="8.30" height="10.35" fill="#fff" stroke="#000" stroke-width="1.5"/>
<line x1="330.10" y1="733.00" x2="330.10" y2="722.30" stroke="#000" stroke-width="1.4"/>
<line x1="327.10" y1="722.30" x2="333.10" y2="722.30" stroke="#000" stroke-width="1.4"/>
<rect x="324.30" y="733.00" width="11.60" height="78.90" fill="#000"/>
<line x1="341.25" y1="748.50" x2="341.25" y2="737.70" stroke="#000" stroke-width="1.4"/>
<line x1="338.25" y1="737.70" x2="344.25" y2="737.70" stroke="#000" stroke-width="1.4"/>
<rect x="336.65" y="749.25" width="9.20" height="62.65" fill="#fff" stroke="#000" stroke-width="1.5"/>
<line x1="254.20" y1="790.80" x2="270.80" y2="790.80" stroke="#000" stroke-width="1.6"/>
<path d="M260.60,784.50L264.80,784.50M261.65,782.68L263.75,786.32M263.75,782.68L261.65,786.32" stroke="#222" stroke-width="1.3" fill="none"/>
<line x1="408.60" y1="714.30" x2="408.60" y2="813.65" stroke="#000" stroke-width="1.6"/>
<line x1="407.80" y1="812.90" x2="518.00" y2="812.90" stroke="#000" stroke-width="1.6"/>
<line x1="445.00" y1="812.90" x2="445.00" y2="815.10" stroke="#000" stroke-width="1.2"/>
<line x1="481.40" y1="812.90" x2="481.40" y2="815.10" stroke="#000" stroke-width="1.2"/>
<line x1="518.00" y1="812.30" x2="518.00" y2="814.90" stroke="#000" stroke-width="1.2"/>
<line x1="406.40" y1="812.90" x2="408.60" y2="812.90" stroke="#000" stroke-width="1.3"/>
<text x="405.70" y="814.59" font-size="12.0" text-anchor="end">0</text>
<line x1="406.40" y1="798.89" x2="408.60" y2="798.89" stroke="#000" stroke-width="1.3"/>
<text x="405.70" y="800.57" font-size="12.0" text-anchor="end">5</text>
<line x1="406.40" y1="784.87" x2="408.60" y2="784.87" stroke="#000" stroke-width="1.3"/>
<text x="405.70" y="786.06" font-size="12.0" text-anchor="end">10</text>
<line x1="406.40" y1="770.86" x2="408.60" y2="770.86" stroke="#000" stroke-width="1.3"/>
<text x="405.70" y="772.05" font-size="12.0" text-anchor="end">15</text>
<line x1="406.40" y1="756.84" x2="408.60" y2="756.84" stroke="#000" stroke-width="1.3"/>
<text x="405.70" y="757.83" font-size="12.0" text-anchor="end">20</text>
<line x1="406.40" y1="742.83" x2="408.60" y2="742.83" stroke="#000" stroke-width="1.3"/>
<text x="405.70" y="744.22" font-size="12.0" text-anchor="end">25</text>
<line x1="406.40" y1="728.81" x2="408.60" y2="728.81" stroke="#000" stroke-width="1.3"/>
<text x="405.70" y="728.70" font-size="12.0" text-anchor="end">30</text>
<line x1="406.40" y1="714.80" x2="408.60" y2="714.80" stroke="#000" stroke-width="1.3"/>
<text x="405.70" y="714.69" font-size="12.0" text-anchor="end">35</text>
<rect x="416.30" y="808.60" width="10.40" height="4.30" fill="#000"/>
<line x1="432.30" y1="795.60" x2="432.30" y2="791.00" stroke="#000" stroke-width="1.4"/>
<line x1="429.30" y1="791.00" x2="435.30" y2="791.00" stroke="#000" stroke-width="1.4"/>
<rect x="427.45" y="796.35" width="9.70" height="16.55" fill="#fff" stroke="#000" stroke-width="1.5"/>
<rect x="452.30" y="799.20" width="10.20" height="13.70" fill="#000"/>
<line x1="468.35" y1="778.30" x2="468.35" y2="769.00" stroke="#000" stroke-width="1.4"/>
<line x1="465.35" y1="769.00" x2="471.35" y2="769.00" stroke="#000" stroke-width="1.4"/>
<rect x="463.25" y="779.05" width="10.20" height="33.85" fill="#fff" stroke="#000" stroke-width="1.5"/>
<line x1="494.45" y1="765.40" x2="494.45" y2="749.40" stroke="#000" stroke-width="1.4"/>
<line x1="491.45" y1="749.40" x2="497.45" y2="749.40" stroke="#000" stroke-width="1.4"/>
<rect x="488.50" y="765.40" width="11.90" height="47.50" fill="#000"/>
<line x1="505.50" y1="734.60" x2="505.50" y2="717.70" stroke="#000" stroke-width="1.4"/>
<line x1="502.50" y1="717.70" x2="508.50" y2="717.70" stroke="#000" stroke-width="1.4"/>
<rect x="501.15" y="735.35" width="8.70" height="77.55" fill="#fff" stroke="#000" stroke-width="1.5"/>
<line x1="420.10" y1="783.70" x2="436.90" y2="783.70" stroke="#000" stroke-width="1.6"/>
<path d="M422.50,777.70L426.70,777.70M423.55,775.88L425.65,779.52M425.65,775.88L423.55,779.52" stroke="#222" stroke-width="1.3" fill="none"/>
<path d="M427.40,777.70L431.60,777.70M428.45,775.88L430.55,779.52M430.55,775.88L428.45,779.52" stroke="#222" stroke-width="1.3" fill="none"/>
<path d="M432.30,777.70L436.50,777.70M433.35,775.88L435.45,779.52M435.45,775.88L433.35,779.52" stroke="#222" stroke-width="1.3" fill="none"/>
<line x1="455.10" y1="757.50" x2="471.90" y2="757.50" stroke="#000" stroke-width="1.6"/>
<path d="M459.25,751.80L463.45,751.80M460.30,749.98L462.40,753.62M462.40,749.98L460.30,753.62" stroke="#222" stroke-width="1.3" fill="none"/>
<path d="M464.15,751.80L468.35,751.80M465.20,749.98L467.30,753.62M467.30,749.98L465.20,753.62" stroke="#222" stroke-width="1.3" fill="none"/>
<text transform="translate(71.80,811.74) rotate(-90) scale(0.930,1)" font-size="22.20">% CD45</text>
<path d="M55.60,729.90H65.00M60.30,725.20V734.60" stroke="#000" stroke-width="1.45"/>
<text transform="translate(386.30,833.41) rotate(-90) scale(1.006,1)" font-size="16.56">cell number x 10</text>
<text transform="translate(381.4,711.15) rotate(-90)" font-size="15.6">4</text>
<text transform="translate(107.90,837.30) rotate(-45)" font-size="12.6" text-anchor="end">CD11b</text>
<text transform="translate(115.80,824.40) rotate(-45)" font-size="8.2" text-anchor="end">low</text>
<text transform="translate(150.20,827.90) rotate(-45)" font-size="12.6" text-anchor="end">DP</text>
<text transform="translate(177.80,836.40) rotate(-45)" font-size="12.6" text-anchor="end">CD27</text>
<text transform="translate(185.40,822.90) rotate(-45)" font-size="8.2" text-anchor="end">low</text>
<text transform="translate(257.50,839.00) rotate(-45)" font-size="12.6" text-anchor="end">CD11b</text>
<text transform="translate(266.40,825.90) rotate(-45)" font-size="8.2" text-anchor="end">low</text>
<text transform="translate(300.80,827.90) rotate(-45)" font-size="12.6" text-anchor="end">DP</text>
<text transform="translate(328.40,838.80) rotate(-45)" font-size="12.6" text-anchor="end">CD27</text>
<text transform="translate(335.80,825.50) rotate(-45)" font-size="8.2" text-anchor="end">low</text>
<text transform="translate(422.70,839.50) rotate(-45)" font-size="12.6" text-anchor="end">CD11b</text>
<text transform="translate(431.40,825.80) rotate(-45)" font-size="8.2" text-anchor="end">low</text>
<text transform="translate(465.80,829.30) rotate(-45)" font-size="12.6" text-anchor="end">DP</text>
<text transform="translate(492.20,840.00) rotate(-45)" font-size="12.6" text-anchor="end">CD27</text>
<text transform="translate(500.20,826.10) rotate(-45)" font-size="8.2" text-anchor="end">low</text>
</svg></body></html>
